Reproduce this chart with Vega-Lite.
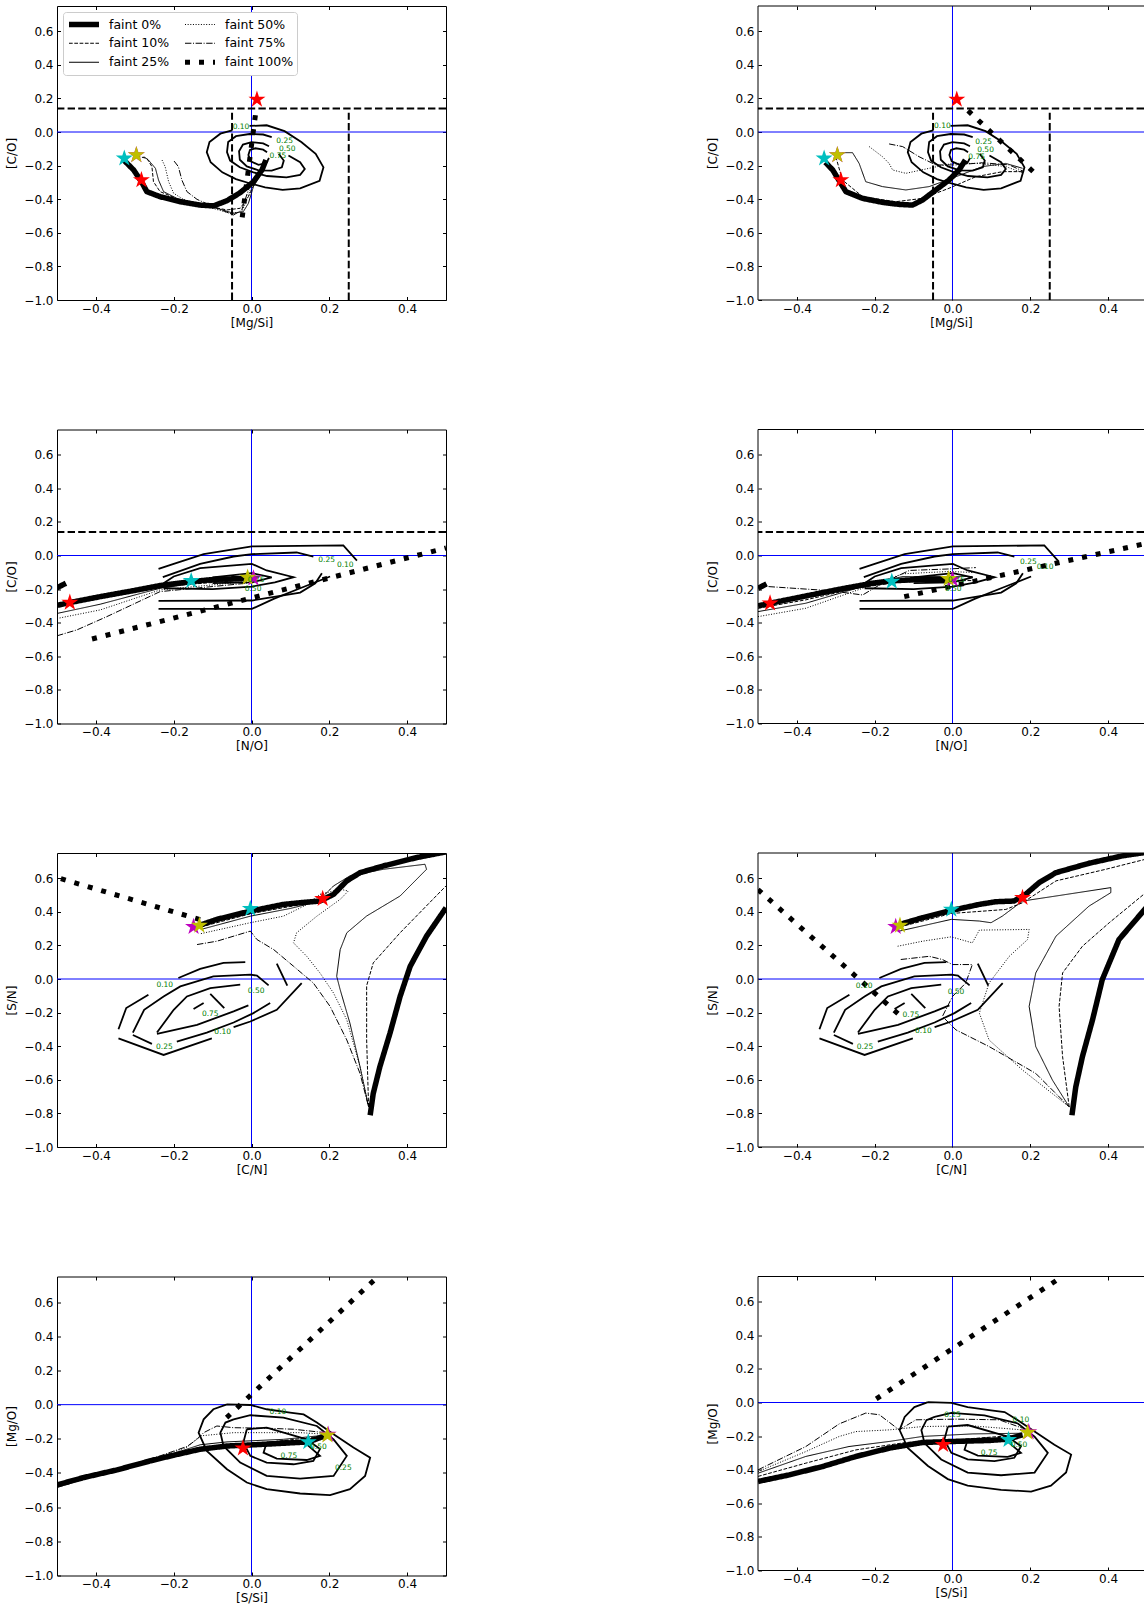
{
"$schema": "https://vega.github.io/schema/vega-lite/v6.json",
"padding": {"left": 5, "top": 5, "right": 0, "bottom": 0},
"background": "white",
"config": {
 "font": "DejaVu Sans",
 "axis": {"labelFont": "DejaVu Sans", "titleFont": "DejaVu Sans", "labelFontSize": 12, "titleFontSize": 12, "titleFontWeight": "normal", "labelColor": "black", "titleColor": "black", "tickColor": "black", "tickSize": 3.5, "tickWidth": 1, "offset": -3.5, "domain": false, "grid": false, "labelFlush": false, "labelOverlap": false, "labelBound": false},
 "view": {"stroke": "black"},
 "text": {"font": "DejaVu Sans"}
},
"datasets": {
"model": [
{"p":1,"s":"faint 0%","g":"0","i":0,"x":-0.327,"y":-0.17},{"p":1,"s":"faint 0%","g":"0","i":1,"x":-0.303,"y":-0.226},{"p":1,"s":"faint 0%","g":"0","i":2,"x":-0.283,"y":-0.296},{"p":1,"s":"faint 0%","g":"0","i":3,"x":-0.269,"y":-0.355},{"p":1,"s":"faint 0%","g":"0","i":4,"x":-0.235,"y":-0.385},{"p":1,"s":"faint 0%","g":"0","i":5,"x":-0.183,"y":-0.415},{"p":1,"s":"faint 0%","g":"0","i":6,"x":-0.132,"y":-0.435},{"p":1,"s":"faint 0%","g":"0","i":7,"x":-0.098,"y":-0.44},{"p":1,"s":"faint 0%","g":"0","i":8,"x":-0.063,"y":-0.409},{"p":1,"s":"faint 0%","g":"0","i":9,"x":-0.029,"y":-0.361},{"p":1,"s":"faint 0%","g":"0","i":10,"x":0.005,"y":-0.296},{"p":1,"s":"faint 0%","g":"0","i":11,"x":0.027,"y":-0.226},{"p":1,"s":"faint 0%","g":"0","i":12,"x":0.037,"y":-0.167},
{"p":1,"s":"faint 10%","g":"10","i":0,"x":-0.295,"y":-0.143},{"p":1,"s":"faint 10%","g":"10","i":1,"x":-0.269,"y":-0.157},{"p":1,"s":"faint 10%","g":"10","i":2,"x":-0.256,"y":-0.206},{"p":1,"s":"faint 10%","g":"10","i":3,"x":-0.252,"y":-0.296},{"p":1,"s":"faint 10%","g":"10","i":4,"x":-0.235,"y":-0.355},{"p":1,"s":"faint 10%","g":"10","i":5,"x":-0.183,"y":-0.405},{"p":1,"s":"faint 10%","g":"10","i":6,"x":-0.115,"y":-0.44},{"p":1,"s":"faint 10%","g":"10","i":7,"x":-0.063,"y":-0.464},{"p":1,"s":"faint 10%","g":"10","i":8,"x":-0.029,"y":-0.454},{"p":1,"s":"faint 10%","g":"10","i":9,"x":-0.008,"y":-0.385},{"p":1,"s":"faint 10%","g":"10","i":10,"x":0.014,"y":-0.276},{"p":1,"s":"faint 10%","g":"10","i":11,"x":0.035,"y":-0.187},
{"p":1,"s":"faint 25%","g":"25","i":0,"x":-0.277,"y":-0.147},{"p":1,"s":"faint 25%","g":"25","i":1,"x":-0.265,"y":-0.167},{"p":1,"s":"faint 25%","g":"25","i":2,"x":-0.247,"y":-0.216},{"p":1,"s":"faint 25%","g":"25","i":3,"x":-0.239,"y":-0.286},{"p":1,"s":"faint 25%","g":"25","i":4,"x":-0.226,"y":-0.355},{"p":1,"s":"faint 25%","g":"25","i":5,"x":-0.192,"y":-0.395},{"p":1,"s":"faint 25%","g":"25","i":6,"x":-0.132,"y":-0.429},{"p":1,"s":"faint 25%","g":"25","i":7,"x":-0.08,"y":-0.46},{"p":1,"s":"faint 25%","g":"25","i":8,"x":-0.046,"y":-0.484},{"p":1,"s":"faint 25%","g":"25","i":9,"x":-0.021,"y":-0.474},{"p":1,"s":"faint 25%","g":"25","i":10,"x":-0.008,"y":-0.425},{"p":1,"s":"faint 25%","g":"25","i":11,"x":0.005,"y":-0.325},{"p":1,"s":"faint 25%","g":"25","i":12,"x":0.031,"y":-0.226},{"p":1,"s":"faint 25%","g":"25","i":13,"x":0.039,"y":-0.177},
{"p":1,"s":"faint 50%","g":"50","i":0,"x":-0.23,"y":-0.167},{"p":1,"s":"faint 50%","g":"50","i":1,"x":-0.222,"y":-0.206},{"p":1,"s":"faint 50%","g":"50","i":2,"x":-0.213,"y":-0.296},{"p":1,"s":"faint 50%","g":"50","i":3,"x":-0.2,"y":-0.365},{"p":1,"s":"faint 50%","g":"50","i":4,"x":-0.175,"y":-0.401},{"p":1,"s":"faint 50%","g":"50","i":5,"x":-0.115,"y":-0.444},{"p":1,"s":"faint 50%","g":"50","i":6,"x":-0.055,"y":-0.484},{"p":1,"s":"faint 50%","g":"50","i":7,"x":-0.025,"y":-0.474},{"p":1,"s":"faint 50%","g":"50","i":8,"x":-0.012,"y":-0.405},{"p":1,"s":"faint 50%","g":"50","i":9,"x":0.005,"y":-0.286},{"p":1,"s":"faint 50%","g":"50","i":10,"x":0.031,"y":-0.206},
{"p":1,"s":"faint 75%","g":"75","i":0,"x":-0.199,"y":-0.173},{"p":1,"s":"faint 75%","g":"75","i":1,"x":-0.188,"y":-0.206},{"p":1,"s":"faint 75%","g":"75","i":2,"x":-0.179,"y":-0.286},{"p":1,"s":"faint 75%","g":"75","i":3,"x":-0.166,"y":-0.355},{"p":1,"s":"faint 75%","g":"75","i":4,"x":-0.14,"y":-0.401},{"p":1,"s":"faint 75%","g":"75","i":5,"x":-0.098,"y":-0.444},{"p":1,"s":"faint 75%","g":"75","i":6,"x":-0.046,"y":-0.494},{"p":1,"s":"faint 75%","g":"75","i":7,"x":-0.025,"y":-0.464},{"p":1,"s":"faint 75%","g":"75","i":8,"x":-0.008,"y":-0.345},{"p":1,"s":"faint 75%","g":"75","i":9,"x":0.014,"y":-0.246},{"p":1,"s":"faint 75%","g":"75","i":10,"x":0.035,"y":-0.196},
{"p":1,"s":"faint 100%","g":"100","i":0,"x":0.01,"y":0.1},{"p":1,"s":"faint 100%","g":"100","i":1,"x":-0.024,"y":-0.51},

{"p":2,"s":"faint 0%","g":"0","i":0,"x":-0.327,"y":-0.18},{"p":2,"s":"faint 0%","g":"0","i":1,"x":-0.308,"y":-0.226},{"p":2,"s":"faint 0%","g":"0","i":2,"x":-0.287,"y":-0.306},{"p":2,"s":"faint 0%","g":"0","i":3,"x":-0.274,"y":-0.355},{"p":2,"s":"faint 0%","g":"0","i":4,"x":-0.231,"y":-0.395},{"p":2,"s":"faint 0%","g":"0","i":5,"x":-0.18,"y":-0.419},{"p":2,"s":"faint 0%","g":"0","i":6,"x":-0.137,"y":-0.431},{"p":2,"s":"faint 0%","g":"0","i":7,"x":-0.103,"y":-0.435},{"p":2,"s":"faint 0%","g":"0","i":8,"x":-0.077,"y":-0.405},{"p":2,"s":"faint 0%","g":"0","i":9,"x":-0.043,"y":-0.345},{"p":2,"s":"faint 0%","g":"0","i":10,"x":-0.009,"y":-0.286},{"p":2,"s":"faint 0%","g":"0","i":11,"x":0.017,"y":-0.226},{"p":2,"s":"faint 0%","g":"0","i":12,"x":0.033,"y":-0.167},
{"p":2,"s":"faint 10%","g":"10","i":0,"x":-0.3,"y":-0.147},{"p":2,"s":"faint 10%","g":"10","i":1,"x":-0.283,"y":-0.286},{"p":2,"s":"faint 10%","g":"10","i":2,"x":-0.231,"y":-0.385},{"p":2,"s":"faint 10%","g":"10","i":3,"x":-0.146,"y":-0.415},{"p":2,"s":"faint 10%","g":"10","i":4,"x":-0.077,"y":-0.395},{"p":2,"s":"faint 10%","g":"10","i":5,"x":-0.009,"y":-0.335},{"p":2,"s":"faint 10%","g":"10","i":6,"x":0.06,"y":-0.266},{"p":2,"s":"faint 10%","g":"10","i":7,"x":0.129,"y":-0.236},{"p":2,"s":"faint 10%","g":"10","i":8,"x":0.18,"y":-0.236},
{"p":2,"s":"faint 25%","g":"25","i":0,"x":-0.283,"y":-0.123},{"p":2,"s":"faint 25%","g":"25","i":1,"x":-0.257,"y":-0.123},{"p":2,"s":"faint 25%","g":"25","i":2,"x":-0.24,"y":-0.187},{"p":2,"s":"faint 25%","g":"25","i":3,"x":-0.223,"y":-0.296},{"p":2,"s":"faint 25%","g":"25","i":4,"x":-0.18,"y":-0.325},{"p":2,"s":"faint 25%","g":"25","i":5,"x":-0.12,"y":-0.345},{"p":2,"s":"faint 25%","g":"25","i":6,"x":-0.06,"y":-0.325},{"p":2,"s":"faint 25%","g":"25","i":7,"x":0.009,"y":-0.266},{"p":2,"s":"faint 25%","g":"25","i":8,"x":0.077,"y":-0.206},{"p":2,"s":"faint 25%","g":"25","i":9,"x":0.137,"y":-0.187},{"p":2,"s":"faint 25%","g":"25","i":10,"x":0.18,"y":-0.216},
{"p":2,"s":"faint 50%","g":"50","i":0,"x":-0.214,"y":-0.087},{"p":2,"s":"faint 50%","g":"50","i":1,"x":-0.18,"y":-0.147},{"p":2,"s":"faint 50%","g":"50","i":2,"x":-0.163,"y":-0.187},{"p":2,"s":"faint 50%","g":"50","i":3,"x":-0.154,"y":-0.226},{"p":2,"s":"faint 50%","g":"50","i":4,"x":-0.12,"y":-0.246},{"p":2,"s":"faint 50%","g":"50","i":5,"x":-0.06,"y":-0.216},{"p":2,"s":"faint 50%","g":"50","i":6,"x":0.0,"y":-0.187},{"p":2,"s":"faint 50%","g":"50","i":7,"x":0.069,"y":-0.187},{"p":2,"s":"faint 50%","g":"50","i":8,"x":0.137,"y":-0.206},{"p":2,"s":"faint 50%","g":"50","i":9,"x":0.18,"y":-0.242},
{"p":2,"s":"faint 75%","g":"75","i":0,"x":-0.163,"y":-0.071},{"p":2,"s":"faint 75%","g":"75","i":1,"x":-0.128,"y":-0.087},{"p":2,"s":"faint 75%","g":"75","i":2,"x":-0.086,"y":-0.147},{"p":2,"s":"faint 75%","g":"75","i":3,"x":-0.043,"y":-0.196},{"p":2,"s":"faint 75%","g":"75","i":4,"x":0.009,"y":-0.196},{"p":2,"s":"faint 75%","g":"75","i":5,"x":0.077,"y":-0.183},{"p":2,"s":"faint 75%","g":"75","i":6,"x":0.146,"y":-0.196},{"p":2,"s":"faint 75%","g":"75","i":7,"x":0.184,"y":-0.236},
{"p":2,"s":"faint 100%","g":"100","i":0,"x":0.04,"y":0.127},{"p":2,"s":"faint 100%","g":"100","i":1,"x":0.21,"y":-0.242},

{"p":3,"s":"faint 0%","g":"0","i":0,"x":-0.5,"y":-0.297},{"p":3,"s":"faint 0%","g":"0","i":1,"x":-0.467,"y":-0.28},{"p":3,"s":"faint 0%","g":"0","i":2,"x":-0.389,"y":-0.245},{"p":3,"s":"faint 0%","g":"0","i":3,"x":-0.303,"y":-0.209},{"p":3,"s":"faint 0%","g":"0","i":4,"x":-0.235,"y":-0.179},{"p":3,"s":"faint 0%","g":"0","i":5,"x":-0.155,"y":-0.155},{"p":3,"s":"faint 0%","g":"0","i":6,"x":-0.089,"y":-0.141},{"p":3,"s":"faint 0%","g":"0","i":7,"x":-0.012,"y":-0.137},
{"p":3,"s":"faint 0%","g":"0b","i":0,"x":-0.5,"y":-0.192},{"p":3,"s":"faint 0%","g":"0b","i":1,"x":-0.477,"y":-0.165},
{"p":3,"s":"faint 10%","g":"10","i":0,"x":-0.5,"y":-0.305},{"p":3,"s":"faint 10%","g":"10","i":1,"x":-0.389,"y":-0.254},{"p":3,"s":"faint 10%","g":"10","i":2,"x":-0.235,"y":-0.185},{"p":3,"s":"faint 10%","g":"10","i":3,"x":-0.012,"y":-0.145},
{"p":3,"s":"faint 25%","g":"25","i":0,"x":-0.5,"y":-0.345},{"p":3,"s":"faint 25%","g":"25","i":1,"x":-0.389,"y":-0.29},{"p":3,"s":"faint 25%","g":"25","i":2,"x":-0.235,"y":-0.195},{"p":3,"s":"faint 25%","g":"25","i":3,"x":-0.132,"y":-0.161},{"p":3,"s":"faint 25%","g":"25","i":4,"x":-0.012,"y":-0.149},
{"p":3,"s":"faint 50%","g":"50","i":0,"x":-0.5,"y":-0.375},{"p":3,"s":"faint 50%","g":"50","i":1,"x":-0.389,"y":-0.324},{"p":3,"s":"faint 50%","g":"50","i":2,"x":-0.235,"y":-0.205},{"p":3,"s":"faint 50%","g":"50","i":3,"x":-0.012,"y":-0.155},
{"p":3,"s":"faint 75%","g":"75","i":0,"x":-0.5,"y":-0.478},{"p":3,"s":"faint 75%","g":"75","i":1,"x":-0.449,"y":-0.443},{"p":3,"s":"faint 75%","g":"75","i":2,"x":-0.372,"y":-0.364},{"p":3,"s":"faint 75%","g":"75","i":3,"x":-0.235,"y":-0.215},{"p":3,"s":"faint 75%","g":"75","i":4,"x":-0.012,"y":-0.165},
{"p":3,"s":"faint 100%","g":"100","i":0,"x":-0.41,"y":-0.497},{"p":3,"s":"faint 100%","g":"100","i":1,"x":0.5,"y":0.045},

{"p":4,"s":"faint 0%","g":"0","i":0,"x":-0.5,"y":-0.3},{"p":4,"s":"faint 0%","g":"0","i":1,"x":-0.469,"y":-0.284},{"p":4,"s":"faint 0%","g":"0","i":2,"x":-0.377,"y":-0.241},{"p":4,"s":"faint 0%","g":"0","i":3,"x":-0.291,"y":-0.201},{"p":4,"s":"faint 0%","g":"0","i":4,"x":-0.206,"y":-0.165},{"p":4,"s":"faint 0%","g":"0","i":5,"x":-0.156,"y":-0.151},{"p":4,"s":"faint 0%","g":"0","i":6,"x":-0.077,"y":-0.141},{"p":4,"s":"faint 0%","g":"0","i":7,"x":-0.009,"y":-0.141},
{"p":4,"s":"faint 0%","g":"0b","i":0,"x":-0.5,"y":-0.195},{"p":4,"s":"faint 0%","g":"0b","i":1,"x":-0.478,"y":-0.169},
{"p":4,"s":"faint 10%","g":"10","i":0,"x":-0.5,"y":-0.314},{"p":4,"s":"faint 10%","g":"10","i":1,"x":-0.377,"y":-0.264},{"p":4,"s":"faint 10%","g":"10","i":2,"x":-0.248,"y":-0.195},{"p":4,"s":"faint 10%","g":"10","i":3,"x":-0.146,"y":-0.161},{"p":4,"s":"faint 10%","g":"10","i":4,"x":-0.034,"y":-0.151},{"p":4,"s":"faint 10%","g":"10","i":5,"x":0.051,"y":-0.149},
{"p":4,"s":"faint 25%","g":"25","i":0,"x":-0.5,"y":-0.334},{"p":4,"s":"faint 25%","g":"25","i":1,"x":-0.377,"y":-0.284},{"p":4,"s":"faint 25%","g":"25","i":2,"x":-0.231,"y":-0.185},{"p":4,"s":"faint 25%","g":"25","i":3,"x":-0.128,"y":-0.125},{"p":4,"s":"faint 25%","g":"25","i":4,"x":-0.009,"y":-0.125},{"p":4,"s":"faint 25%","g":"25","i":5,"x":0.051,"y":-0.125},
{"p":4,"s":"faint 50%","g":"50","i":0,"x":-0.5,"y":-0.364},{"p":4,"s":"faint 50%","g":"50","i":1,"x":-0.377,"y":-0.314},{"p":4,"s":"faint 50%","g":"50","i":2,"x":-0.231,"y":-0.195},{"p":4,"s":"faint 50%","g":"50","i":3,"x":-0.128,"y":-0.109},{"p":4,"s":"faint 50%","g":"50","i":4,"x":-0.009,"y":-0.095},{"p":4,"s":"faint 50%","g":"50","i":5,"x":0.051,"y":-0.101},
{"p":4,"s":"faint 75%","g":"75","i":0,"x":-0.5,"y":-0.181},{"p":4,"s":"faint 75%","g":"75","i":1,"x":-0.317,"y":-0.209},{"p":4,"s":"faint 75%","g":"75","i":2,"x":-0.231,"y":-0.235},{"p":4,"s":"faint 75%","g":"75","i":3,"x":-0.18,"y":-0.165},{"p":4,"s":"faint 75%","g":"75","i":4,"x":-0.111,"y":-0.089},{"p":4,"s":"faint 75%","g":"75","i":5,"x":-0.009,"y":-0.08},{"p":4,"s":"faint 75%","g":"75","i":6,"x":0.06,"y":-0.072},
{"p":4,"s":"faint 100%","g":"100","i":0,"x":-0.124,"y":-0.245},{"p":4,"s":"faint 100%","g":"100","i":1,"x":0.5,"y":0.073},

{"p":5,"s":"faint 0%","g":"0","i":0,"x":-0.134,"y":0.319},{"p":5,"s":"faint 0%","g":"0","i":1,"x":-0.089,"y":0.355},{"p":5,"s":"faint 0%","g":"0","i":2,"x":-0.003,"y":0.404},{"p":5,"s":"faint 0%","g":"0","i":3,"x":0.082,"y":0.444},{"p":5,"s":"faint 0%","g":"0","i":4,"x":0.125,"y":0.454},{"p":5,"s":"faint 0%","g":"0","i":5,"x":0.176,"y":0.464},{"p":5,"s":"faint 0%","g":"0","i":6,"x":0.211,"y":0.504},{"p":5,"s":"faint 0%","g":"0","i":7,"x":0.245,"y":0.584},{"p":5,"s":"faint 0%","g":"0","i":8,"x":0.279,"y":0.633},{"p":5,"s":"faint 0%","g":"0","i":9,"x":0.339,"y":0.673},{"p":5,"s":"faint 0%","g":"0","i":10,"x":0.425,"y":0.723},{"p":5,"s":"faint 0%","g":"0","i":11,"x":0.5,"y":0.757},
{"p":5,"s":"faint 0%","g":"0b","i":0,"x":0.305,"y":-0.811},{"p":5,"s":"faint 0%","g":"0b","i":1,"x":0.313,"y":-0.681},{"p":5,"s":"faint 0%","g":"0b","i":2,"x":0.33,"y":-0.522},{"p":5,"s":"faint 0%","g":"0b","i":3,"x":0.356,"y":-0.323},{"p":5,"s":"faint 0%","g":"0b","i":4,"x":0.382,"y":-0.104},{"p":5,"s":"faint 0%","g":"0b","i":5,"x":0.408,"y":0.076},{"p":5,"s":"faint 0%","g":"0b","i":6,"x":0.45,"y":0.255},{"p":5,"s":"faint 0%","g":"0b","i":7,"x":0.5,"y":0.424},
{"p":5,"s":"faint 10%","g":"10","i":0,"x":-0.13,"y":0.31},{"p":5,"s":"faint 10%","g":"10","i":1,"x":0.0,"y":0.39},{"p":5,"s":"faint 10%","g":"10","i":2,"x":0.12,"y":0.44},{"p":5,"s":"faint 10%","g":"10","i":3,"x":0.18,"y":0.47},{"p":5,"s":"faint 10%","g":"10","i":4,"x":0.22,"y":0.52},{"p":5,"s":"faint 10%","g":"10","i":5,"x":0.26,"y":0.6},{"p":5,"s":"faint 10%","g":"10","i":6,"x":0.32,"y":0.66},{"p":5,"s":"faint 10%","g":"10","i":7,"x":0.42,"y":0.71},{"p":5,"s":"faint 10%","g":"10","i":8,"x":0.5,"y":0.745},
{"p":5,"s":"faint 10%","g":"10b","i":0,"x":0.301,"y":-0.76},{"p":5,"s":"faint 10%","g":"10b","i":1,"x":0.296,"y":-0.36},{"p":5,"s":"faint 10%","g":"10b","i":2,"x":0.296,"y":-0.04},{"p":5,"s":"faint 10%","g":"10b","i":3,"x":0.313,"y":0.096},{"p":5,"s":"faint 10%","g":"10b","i":4,"x":0.382,"y":0.275},{"p":5,"s":"faint 10%","g":"10b","i":5,"x":0.5,"y":0.554},
{"p":5,"s":"faint 25%","g":"25","i":0,"x":-0.13,"y":0.295},{"p":5,"s":"faint 25%","g":"25","i":1,"x":-0.003,"y":0.374},{"p":5,"s":"faint 25%","g":"25","i":2,"x":0.1,"y":0.42},{"p":5,"s":"faint 25%","g":"25","i":3,"x":0.17,"y":0.46},{"p":5,"s":"faint 25%","g":"25","i":4,"x":0.211,"y":0.554},{"p":5,"s":"faint 25%","g":"25","i":5,"x":0.253,"y":0.614},{"p":5,"s":"faint 25%","g":"25","i":6,"x":0.339,"y":0.653},{"p":5,"s":"faint 25%","g":"25","i":7,"x":0.446,"y":0.683},{"p":5,"s":"faint 25%","g":"25","i":8,"x":0.45,"y":0.653},{"p":5,"s":"faint 25%","g":"25","i":9,"x":0.382,"y":0.494},{"p":5,"s":"faint 25%","g":"25","i":10,"x":0.296,"y":0.375},{"p":5,"s":"faint 25%","g":"25","i":11,"x":0.245,"y":0.275},{"p":5,"s":"faint 25%","g":"25","i":12,"x":0.228,"y":0.175},{"p":5,"s":"faint 25%","g":"25","i":13,"x":0.219,"y":0.016},{"p":5,"s":"faint 25%","g":"25","i":14,"x":0.228,"y":-0.064},{"p":5,"s":"faint 25%","g":"25","i":15,"x":0.253,"y":-0.263},{"p":5,"s":"faint 25%","g":"25","i":16,"x":0.279,"y":-0.522},{"p":5,"s":"faint 25%","g":"25","i":17,"x":0.301,"y":-0.761},
{"p":5,"s":"faint 50%","g":"50","i":0,"x":-0.13,"y":0.27},{"p":5,"s":"faint 50%","g":"50","i":1,"x":-0.003,"y":0.335},{"p":5,"s":"faint 50%","g":"50","i":2,"x":0.082,"y":0.374},{"p":5,"s":"faint 50%","g":"50","i":3,"x":0.14,"y":0.44},{"p":5,"s":"faint 50%","g":"50","i":4,"x":0.176,"y":0.504},{"p":5,"s":"faint 50%","g":"50","i":5,"x":0.228,"y":0.534},{"p":5,"s":"faint 50%","g":"50","i":6,"x":0.249,"y":0.524},{"p":5,"s":"faint 50%","g":"50","i":7,"x":0.228,"y":0.474},{"p":5,"s":"faint 50%","g":"50","i":8,"x":0.168,"y":0.374},{"p":5,"s":"faint 50%","g":"50","i":9,"x":0.116,"y":0.275},{"p":5,"s":"faint 50%","g":"50","i":10,"x":0.108,"y":0.215},{"p":5,"s":"faint 50%","g":"50","i":11,"x":0.142,"y":0.135},{"p":5,"s":"faint 50%","g":"50","i":12,"x":0.176,"y":0.036},{"p":5,"s":"faint 50%","g":"50","i":13,"x":0.211,"y":-0.084},{"p":5,"s":"faint 50%","g":"50","i":14,"x":0.245,"y":-0.243},{"p":5,"s":"faint 50%","g":"50","i":15,"x":0.279,"y":-0.522},{"p":5,"s":"faint 50%","g":"50","i":16,"x":0.301,"y":-0.761},
{"p":5,"s":"faint 75%","g":"75","i":0,"x":-0.14,"y":0.205},{"p":5,"s":"faint 75%","g":"75","i":1,"x":-0.089,"y":0.225},{"p":5,"s":"faint 75%","g":"75","i":2,"x":-0.003,"y":0.285},{"p":5,"s":"faint 75%","g":"75","i":3,"x":0.014,"y":0.235},{"p":5,"s":"faint 75%","g":"75","i":4,"x":0.057,"y":0.175},{"p":5,"s":"faint 75%","g":"75","i":5,"x":0.108,"y":0.076},{"p":5,"s":"faint 75%","g":"75","i":6,"x":0.159,"y":-0.024},{"p":5,"s":"faint 75%","g":"75","i":7,"x":0.202,"y":-0.163},{"p":5,"s":"faint 75%","g":"75","i":8,"x":0.245,"y":-0.363},{"p":5,"s":"faint 75%","g":"75","i":9,"x":0.279,"y":-0.562},{"p":5,"s":"faint 75%","g":"75","i":10,"x":0.301,"y":-0.761},
{"p":5,"s":"faint 100%","g":"100","i":0,"x":-0.49,"y":0.597},{"p":5,"s":"faint 100%","g":"100","i":1,"x":-0.12,"y":0.345},

{"p":6,"s":"faint 0%","g":"0","i":0,"x":-0.135,"y":0.325},{"p":6,"s":"faint 0%","g":"0","i":1,"x":-0.077,"y":0.365},{"p":6,"s":"faint 0%","g":"0","i":2,"x":-0.003,"y":0.408},{"p":6,"s":"faint 0%","g":"0","i":3,"x":0.069,"y":0.444},{"p":6,"s":"faint 0%","g":"0","i":4,"x":0.111,"y":0.46},{"p":6,"s":"faint 0%","g":"0","i":5,"x":0.158,"y":0.464},{"p":6,"s":"faint 0%","g":"0","i":6,"x":0.188,"y":0.504},{"p":6,"s":"faint 0%","g":"0","i":7,"x":0.223,"y":0.574},{"p":6,"s":"faint 0%","g":"0","i":8,"x":0.266,"y":0.633},{"p":6,"s":"faint 0%","g":"0","i":9,"x":0.351,"y":0.689},{"p":6,"s":"faint 0%","g":"0","i":10,"x":0.437,"y":0.733},{"p":6,"s":"faint 0%","g":"0","i":11,"x":0.5,"y":0.755},
{"p":6,"s":"faint 0%","g":"0b","i":0,"x":0.307,"y":-0.811},{"p":6,"s":"faint 0%","g":"0b","i":1,"x":0.317,"y":-0.641},{"p":6,"s":"faint 0%","g":"0b","i":2,"x":0.334,"y":-0.462},{"p":6,"s":"faint 0%","g":"0b","i":3,"x":0.36,"y":-0.243},{"p":6,"s":"faint 0%","g":"0b","i":4,"x":0.385,"y":-0.004},{"p":6,"s":"faint 0%","g":"0b","i":5,"x":0.428,"y":0.235},{"p":6,"s":"faint 0%","g":"0b","i":6,"x":0.5,"y":0.43},
{"p":6,"s":"faint 10%","g":"10","i":0,"x":-0.135,"y":0.31},{"p":6,"s":"faint 10%","g":"10","i":1,"x":-0.003,"y":0.39},{"p":6,"s":"faint 10%","g":"10","i":2,"x":0.137,"y":0.414},{"p":6,"s":"faint 10%","g":"10","i":3,"x":0.18,"y":0.454},{"p":6,"s":"faint 10%","g":"10","i":4,"x":0.266,"y":0.584},{"p":6,"s":"faint 10%","g":"10","i":5,"x":0.394,"y":0.653},{"p":6,"s":"faint 10%","g":"10","i":6,"x":0.5,"y":0.715},
{"p":6,"s":"faint 10%","g":"10b","i":0,"x":0.3,"y":-0.761},{"p":6,"s":"faint 10%","g":"10b","i":1,"x":0.283,"y":-0.462},{"p":6,"s":"faint 10%","g":"10b","i":2,"x":0.274,"y":-0.163},{"p":6,"s":"faint 10%","g":"10b","i":3,"x":0.283,"y":0.036},{"p":6,"s":"faint 10%","g":"10b","i":4,"x":0.334,"y":0.195},{"p":6,"s":"faint 10%","g":"10b","i":5,"x":0.403,"y":0.335},{"p":6,"s":"faint 10%","g":"10b","i":6,"x":0.5,"y":0.52},
{"p":6,"s":"faint 25%","g":"25","i":0,"x":-0.137,"y":0.285},{"p":6,"s":"faint 25%","g":"25","i":1,"x":-0.003,"y":0.355},{"p":6,"s":"faint 25%","g":"25","i":2,"x":0.069,"y":0.345},{"p":6,"s":"faint 25%","g":"25","i":3,"x":0.099,"y":0.335},{"p":6,"s":"faint 25%","g":"25","i":4,"x":0.128,"y":0.374},{"p":6,"s":"faint 25%","g":"25","i":5,"x":0.18,"y":0.464},{"p":6,"s":"faint 25%","g":"25","i":6,"x":0.266,"y":0.494},{"p":6,"s":"faint 25%","g":"25","i":7,"x":0.407,"y":0.544},{"p":6,"s":"faint 25%","g":"25","i":8,"x":0.407,"y":0.514},{"p":6,"s":"faint 25%","g":"25","i":9,"x":0.351,"y":0.434},{"p":6,"s":"faint 25%","g":"25","i":10,"x":0.266,"y":0.255},{"p":6,"s":"faint 25%","g":"25","i":11,"x":0.214,"y":0.036},{"p":6,"s":"faint 25%","g":"25","i":12,"x":0.197,"y":-0.163},{"p":6,"s":"faint 25%","g":"25","i":13,"x":0.214,"y":-0.402},{"p":6,"s":"faint 25%","g":"25","i":14,"x":0.257,"y":-0.602},{"p":6,"s":"faint 25%","g":"25","i":15,"x":0.3,"y":-0.761},
{"p":6,"s":"faint 50%","g":"50","i":0,"x":-0.141,"y":0.195},{"p":6,"s":"faint 50%","g":"50","i":1,"x":-0.077,"y":0.225},{"p":6,"s":"faint 50%","g":"50","i":2,"x":-0.003,"y":0.251},{"p":6,"s":"faint 50%","g":"50","i":3,"x":0.051,"y":0.215},{"p":6,"s":"faint 50%","g":"50","i":4,"x":0.069,"y":0.291},{"p":6,"s":"faint 50%","g":"50","i":5,"x":0.197,"y":0.295},{"p":6,"s":"faint 50%","g":"50","i":6,"x":0.193,"y":0.235},{"p":6,"s":"faint 50%","g":"50","i":7,"x":0.146,"y":0.135},{"p":6,"s":"faint 50%","g":"50","i":8,"x":0.094,"y":-0.024},{"p":6,"s":"faint 50%","g":"50","i":9,"x":0.069,"y":-0.203},{"p":6,"s":"faint 50%","g":"50","i":10,"x":0.094,"y":-0.363},{"p":6,"s":"faint 50%","g":"50","i":11,"x":0.18,"y":-0.542},{"p":6,"s":"faint 50%","g":"50","i":12,"x":0.3,"y":-0.761},
{"p":6,"s":"faint 75%","g":"75","i":0,"x":-0.133,"y":0.116},{"p":6,"s":"faint 75%","g":"75","i":1,"x":-0.06,"y":0.135},{"p":6,"s":"faint 75%","g":"75","i":2,"x":-0.026,"y":0.116},{"p":6,"s":"faint 75%","g":"75","i":3,"x":0.0,"y":0.086},{"p":6,"s":"faint 75%","g":"75","i":4,"x":0.051,"y":0.086},{"p":6,"s":"faint 75%","g":"75","i":5,"x":0.034,"y":-0.024},{"p":6,"s":"faint 75%","g":"75","i":6,"x":0.0,"y":-0.104},{"p":6,"s":"faint 75%","g":"75","i":7,"x":-0.026,"y":-0.223},{"p":6,"s":"faint 75%","g":"75","i":8,"x":0.009,"y":-0.303},{"p":6,"s":"faint 75%","g":"75","i":9,"x":0.094,"y":-0.402},{"p":6,"s":"faint 75%","g":"75","i":10,"x":0.214,"y":-0.562},{"p":6,"s":"faint 75%","g":"75","i":11,"x":0.3,"y":-0.761},
{"p":6,"s":"faint 100%","g":"100","i":0,"x":-0.5,"y":0.532},{"p":6,"s":"faint 100%","g":"100","i":1,"x":-0.135,"y":-0.217},

{"p":7,"s":"faint 0%","g":"0","i":0,"x":-0.5,"y":-0.47},{"p":7,"s":"faint 0%","g":"0","i":1,"x":-0.432,"y":-0.427},{"p":7,"s":"faint 0%","g":"0","i":2,"x":-0.346,"y":-0.382},{"p":7,"s":"faint 0%","g":"0","i":3,"x":-0.26,"y":-0.329},{"p":7,"s":"faint 0%","g":"0","i":4,"x":-0.2,"y":-0.296},{"p":7,"s":"faint 0%","g":"0","i":5,"x":-0.132,"y":-0.261},{"p":7,"s":"faint 0%","g":"0","i":6,"x":-0.063,"y":-0.242},{"p":7,"s":"faint 0%","g":"0","i":7,"x":-0.003,"y":-0.236},{"p":7,"s":"faint 0%","g":"0","i":8,"x":0.082,"y":-0.226},{"p":7,"s":"faint 0%","g":"0","i":9,"x":0.146,"y":-0.218},{"p":7,"s":"faint 0%","g":"0","i":10,"x":0.189,"y":-0.183},
{"p":7,"s":"faint 10%","g":"10","i":0,"x":-0.5,"y":-0.476},{"p":7,"s":"faint 10%","g":"10","i":1,"x":-0.346,"y":-0.385},{"p":7,"s":"faint 10%","g":"10","i":2,"x":-0.235,"y":-0.318},{"p":7,"s":"faint 10%","g":"10","i":3,"x":-0.132,"y":-0.252},{"p":7,"s":"faint 10%","g":"10","i":4,"x":-0.003,"y":-0.232},{"p":7,"s":"faint 10%","g":"10","i":5,"x":0.189,"y":-0.183},
{"p":7,"s":"faint 25%","g":"25","i":0,"x":-0.5,"y":-0.478},{"p":7,"s":"faint 25%","g":"25","i":1,"x":-0.346,"y":-0.38},{"p":7,"s":"faint 25%","g":"25","i":2,"x":-0.235,"y":-0.312},{"p":7,"s":"faint 25%","g":"25","i":3,"x":-0.132,"y":-0.235},{"p":7,"s":"faint 25%","g":"25","i":4,"x":-0.063,"y":-0.218},{"p":7,"s":"faint 25%","g":"25","i":5,"x":0.082,"y":-0.203},{"p":7,"s":"faint 25%","g":"25","i":6,"x":0.189,"y":-0.179},
{"p":7,"s":"faint 50%","g":"50","i":0,"x":-0.5,"y":-0.482},{"p":7,"s":"faint 50%","g":"50","i":1,"x":-0.346,"y":-0.378},{"p":7,"s":"faint 50%","g":"50","i":2,"x":-0.235,"y":-0.305},{"p":7,"s":"faint 50%","g":"50","i":3,"x":-0.166,"y":-0.25},{"p":7,"s":"faint 50%","g":"50","i":4,"x":-0.132,"y":-0.183},{"p":7,"s":"faint 50%","g":"50","i":5,"x":-0.046,"y":-0.164},{"p":7,"s":"faint 50%","g":"50","i":6,"x":0.039,"y":-0.164},{"p":7,"s":"faint 50%","g":"50","i":7,"x":0.125,"y":-0.164},{"p":7,"s":"faint 50%","g":"50","i":8,"x":0.189,"y":-0.173},
{"p":7,"s":"faint 75%","g":"75","i":0,"x":-0.5,"y":-0.485},{"p":7,"s":"faint 75%","g":"75","i":1,"x":-0.346,"y":-0.376},{"p":7,"s":"faint 75%","g":"75","i":2,"x":-0.235,"y":-0.3},{"p":7,"s":"faint 75%","g":"75","i":3,"x":-0.166,"y":-0.245},{"p":7,"s":"faint 75%","g":"75","i":4,"x":-0.14,"y":-0.203},{"p":7,"s":"faint 75%","g":"75","i":5,"x":-0.123,"y":-0.164},{"p":7,"s":"faint 75%","g":"75","i":6,"x":-0.089,"y":-0.125},{"p":7,"s":"faint 75%","g":"75","i":7,"x":-0.046,"y":-0.135},{"p":7,"s":"faint 75%","g":"75","i":8,"x":0.039,"y":-0.138},{"p":7,"s":"faint 75%","g":"75","i":9,"x":0.108,"y":-0.144},{"p":7,"s":"faint 75%","g":"75","i":10,"x":0.189,"y":-0.164},
{"p":7,"s":"faint 100%","g":"100","i":0,"x":-0.064,"y":-0.076},{"p":7,"s":"faint 100%","g":"100","i":1,"x":0.318,"y":0.735},

{"p":8,"s":"faint 0%","g":"0","i":0,"x":-0.5,"y":-0.47},{"p":8,"s":"faint 0%","g":"0","i":1,"x":-0.42,"y":-0.431},{"p":8,"s":"faint 0%","g":"0","i":2,"x":-0.334,"y":-0.381},{"p":8,"s":"faint 0%","g":"0","i":3,"x":-0.248,"y":-0.321},{"p":8,"s":"faint 0%","g":"0","i":4,"x":-0.163,"y":-0.272},{"p":8,"s":"faint 0%","g":"0","i":5,"x":-0.077,"y":-0.238},{"p":8,"s":"faint 0%","g":"0","i":6,"x":0.0,"y":-0.232},{"p":8,"s":"faint 0%","g":"0","i":7,"x":0.094,"y":-0.226},{"p":8,"s":"faint 0%","g":"0","i":8,"x":0.144,"y":-0.218},{"p":8,"s":"faint 0%","g":"0","i":9,"x":0.18,"y":-0.192},
{"p":8,"s":"faint 10%","g":"10","i":0,"x":-0.5,"y":-0.44},{"p":8,"s":"faint 10%","g":"10","i":1,"x":-0.377,"y":-0.361},{"p":8,"s":"faint 10%","g":"10","i":2,"x":-0.248,"y":-0.282},{"p":8,"s":"faint 10%","g":"10","i":3,"x":-0.12,"y":-0.238},{"p":8,"s":"faint 10%","g":"10","i":4,"x":0.009,"y":-0.222},{"p":8,"s":"faint 10%","g":"10","i":5,"x":0.18,"y":-0.192},
{"p":8,"s":"faint 25%","g":"25","i":0,"x":-0.5,"y":-0.421},{"p":8,"s":"faint 25%","g":"25","i":1,"x":-0.377,"y":-0.321},{"p":8,"s":"faint 25%","g":"25","i":2,"x":-0.266,"y":-0.262},{"p":8,"s":"faint 25%","g":"25","i":3,"x":-0.163,"y":-0.232},{"p":8,"s":"faint 25%","g":"25","i":4,"x":-0.077,"y":-0.202},{"p":8,"s":"faint 25%","g":"25","i":5,"x":0.051,"y":-0.187},{"p":8,"s":"faint 25%","g":"25","i":6,"x":0.18,"y":-0.183},
{"p":8,"s":"faint 50%","g":"50","i":0,"x":-0.5,"y":-0.411},{"p":8,"s":"faint 50%","g":"50","i":1,"x":-0.377,"y":-0.292},{"p":8,"s":"faint 50%","g":"50","i":2,"x":-0.291,"y":-0.202},{"p":8,"s":"faint 50%","g":"50","i":3,"x":-0.248,"y":-0.173},{"p":8,"s":"faint 50%","g":"50","i":4,"x":-0.163,"y":-0.163},{"p":8,"s":"faint 50%","g":"50","i":5,"x":-0.077,"y":-0.143},{"p":8,"s":"faint 50%","g":"50","i":6,"x":0.051,"y":-0.139},{"p":8,"s":"faint 50%","g":"50","i":7,"x":0.18,"y":-0.163},
{"p":8,"s":"faint 75%","g":"75","i":0,"x":-0.5,"y":-0.401},{"p":8,"s":"faint 75%","g":"75","i":1,"x":-0.377,"y":-0.262},{"p":8,"s":"faint 75%","g":"75","i":2,"x":-0.291,"y":-0.127},{"p":8,"s":"faint 75%","g":"75","i":3,"x":-0.223,"y":-0.063},{"p":8,"s":"faint 75%","g":"75","i":4,"x":-0.188,"y":-0.073},{"p":8,"s":"faint 75%","g":"75","i":5,"x":-0.137,"y":-0.163},{"p":8,"s":"faint 75%","g":"75","i":6,"x":-0.094,"y":-0.103},{"p":8,"s":"faint 75%","g":"75","i":7,"x":0.009,"y":-0.099},{"p":8,"s":"faint 75%","g":"75","i":8,"x":0.12,"y":-0.103},{"p":8,"s":"faint 75%","g":"75","i":9,"x":0.18,"y":-0.153},
{"p":8,"s":"faint 100%","g":"100","i":0,"x":-0.196,"y":0.022},{"p":8,"s":"faint 100%","g":"100","i":1,"x":0.268,"y":0.728}
],
"cont": [
{"q":1,"g":"a","i":0,"x":-0.005,"y":0.036},{"q":1,"g":"a","i":1,"x":0.039,"y":0.04},{"q":1,"g":"a","i":2,"x":0.085,"y":0.005},{"q":1,"g":"a","i":3,"x":0.128,"y":-0.06},{"q":1,"g":"a","i":4,"x":0.165,"y":-0.13},{"q":1,"g":"a","i":5,"x":0.185,"y":-0.21},{"q":1,"g":"a","i":6,"x":0.175,"y":-0.29},{"q":1,"g":"a","i":7,"x":0.125,"y":-0.335},{"q":1,"g":"a","i":8,"x":0.08,"y":-0.345},{"q":1,"g":"a","i":9,"x":0.035,"y":-0.33},{"q":1,"g":"a","i":10,"x":-0.005,"y":-0.305},{"q":1,"g":"a","i":11,"x":-0.04,"y":-0.28},{"q":1,"g":"a","i":12,"x":-0.075,"y":-0.24},{"q":1,"g":"a","i":13,"x":-0.105,"y":-0.18},{"q":1,"g":"a","i":14,"x":-0.115,"y":-0.12},{"q":1,"g":"a","i":15,"x":-0.108,"y":-0.06},{"q":1,"g":"a","i":16,"x":-0.08,"y":-0.01},{"q":1,"g":"a","i":17,"x":-0.05,"y":0.01},
{"q":1,"g":"b","i":0,"x":0.052,"y":-0.03},{"q":1,"g":"b","i":1,"x":0.03,"y":-0.015},{"q":1,"g":"b","i":2,"x":-0.005,"y":-0.012},{"q":1,"g":"b","i":3,"x":-0.04,"y":-0.025},{"q":1,"g":"b","i":4,"x":-0.06,"y":-0.06},{"q":1,"g":"b","i":5,"x":-0.063,"y":-0.12},{"q":1,"g":"b","i":6,"x":-0.055,"y":-0.17},{"q":1,"g":"b","i":7,"x":-0.03,"y":-0.21},{"q":1,"g":"b","i":8,"x":0.005,"y":-0.24},{"q":1,"g":"b","i":9,"x":0.04,"y":-0.262},{"q":1,"g":"b","i":10,"x":0.09,"y":-0.27},{"q":1,"g":"b","i":11,"x":0.125,"y":-0.255},{"q":1,"g":"b","i":12,"x":0.137,"y":-0.22},{"q":1,"g":"b","i":13,"x":0.125,"y":-0.18},{"q":1,"g":"b","i":14,"x":0.095,"y":-0.14},
{"q":1,"g":"c","i":0,"x":0.045,"y":-0.085},{"q":1,"g":"c","i":1,"x":0.03,"y":-0.068},{"q":1,"g":"c","i":2,"x":0.0,"y":-0.06},{"q":1,"g":"c","i":3,"x":-0.022,"y":-0.075},{"q":1,"g":"c","i":4,"x":-0.032,"y":-0.115},{"q":1,"g":"c","i":5,"x":-0.03,"y":-0.165},{"q":1,"g":"c","i":6,"x":-0.012,"y":-0.205},{"q":1,"g":"c","i":7,"x":0.018,"y":-0.228},{"q":1,"g":"c","i":8,"x":0.052,"y":-0.23},{"q":1,"g":"c","i":9,"x":0.078,"y":-0.21},{"q":1,"g":"c","i":10,"x":0.083,"y":-0.17},{"q":1,"g":"c","i":11,"x":0.07,"y":-0.13},
{"q":1,"g":"d","i":0,"x":0.04,"y":-0.12},{"q":1,"g":"d","i":1,"x":0.03,"y":-0.105},{"q":1,"g":"d","i":2,"x":0.01,"y":-0.097},{"q":1,"g":"d","i":3,"x":-0.004,"y":-0.107},{"q":1,"g":"d","i":4,"x":-0.008,"y":-0.137},{"q":1,"g":"d","i":5,"x":-0.002,"y":-0.175},{"q":1,"g":"d","i":6,"x":0.018,"y":-0.195},{"q":1,"g":"d","i":7,"x":0.038,"y":-0.185},{"q":1,"g":"d","i":8,"x":0.045,"y":-0.155},

{"q":2,"g":"a","i":0,"x":-0.239,"y":-0.08},{"q":2,"g":"a","i":1,"x":-0.2,"y":-0.05},{"q":2,"g":"a","i":2,"x":-0.123,"y":0.008},{"q":2,"g":"a","i":3,"x":0.001,"y":0.054},{"q":2,"g":"a","i":4,"x":0.236,"y":0.06},{"q":2,"g":"a","i":5,"x":0.271,"y":-0.03},
{"q":2,"g":"b","i":0,"x":-0.239,"y":-0.318},{"q":2,"g":"b","i":1,"x":0.001,"y":-0.318},{"q":2,"g":"b","i":2,"x":0.057,"y":-0.258},{"q":2,"g":"b","i":3,"x":0.125,"y":-0.195},{"q":2,"g":"b","i":4,"x":0.202,"y":-0.125},
{"q":2,"g":"c","i":0,"x":-0.228,"y":-0.129},{"q":2,"g":"c","i":1,"x":-0.132,"y":-0.05},{"q":2,"g":"c","i":2,"x":-0.046,"y":-0.006},{"q":2,"g":"c","i":3,"x":0.001,"y":0.008},{"q":2,"g":"c","i":4,"x":0.116,"y":0.018},{"q":2,"g":"c","i":5,"x":0.159,"y":-0.006},
{"q":2,"g":"d","i":0,"x":-0.239,"y":-0.27},{"q":2,"g":"d","i":1,"x":0.001,"y":-0.268},{"q":2,"g":"d","i":2,"x":0.125,"y":-0.221},{"q":2,"g":"d","i":3,"x":0.164,"y":-0.165},{"q":2,"g":"d","i":4,"x":0.181,"y":-0.105},
{"q":2,"g":"e","i":0,"x":-0.226,"y":-0.165},{"q":2,"g":"e","i":1,"x":-0.2,"y":-0.125},{"q":2,"g":"e","i":2,"x":-0.132,"y":-0.075},{"q":2,"g":"e","i":3,"x":0.001,"y":-0.05},{"q":2,"g":"e","i":4,"x":0.039,"y":-0.089},{"q":2,"g":"e","i":5,"x":0.108,"y":-0.129},{"q":2,"g":"e","i":6,"x":0.06,"y":-0.16},{"q":2,"g":"e","i":7,"x":0.001,"y":-0.185},{"q":2,"g":"e","i":8,"x":-0.1,"y":-0.2},{"q":2,"g":"e","i":9,"x":-0.226,"y":-0.195},
{"q":2,"g":"f","i":0,"x":-0.1,"y":-0.13},{"q":2,"g":"f","i":1,"x":0.001,"y":-0.105},{"q":2,"g":"f","i":2,"x":0.052,"y":-0.13},{"q":2,"g":"f","i":3,"x":0.001,"y":-0.16},{"q":2,"g":"f","i":4,"x":-0.1,"y":-0.165},

{"q":3,"g":"a","i":0,"x":-0.342,"y":-0.299},{"q":3,"g":"a","i":1,"x":-0.322,"y":-0.173},{"q":3,"g":"a","i":2,"x":-0.265,"y":-0.094},
{"q":3,"g":"b","i":0,"x":-0.188,"y":0.006},{"q":3,"g":"b","i":1,"x":-0.132,"y":0.06},{"q":3,"g":"b","i":2,"x":-0.072,"y":0.096},{"q":3,"g":"b","i":3,"x":-0.016,"y":0.1},
{"q":3,"g":"c","i":0,"x":0.065,"y":0.092},{"q":3,"g":"c","i":1,"x":0.092,"y":-0.04},
{"q":3,"g":"d","i":0,"x":0.129,"y":-0.024},{"q":3,"g":"d","i":1,"x":0.065,"y":-0.183},{"q":3,"g":"d","i":2,"x":-0.003,"y":-0.253},{"q":3,"g":"d","i":3,"x":-0.046,"y":-0.287},
{"q":3,"g":"e","i":0,"x":-0.102,"y":-0.353},{"q":3,"g":"e","i":1,"x":-0.226,"y":-0.452},{"q":3,"g":"e","i":2,"x":-0.342,"y":-0.353},
{"q":3,"g":"f","i":0,"x":-0.305,"y":-0.319},{"q":3,"g":"f","i":1,"x":-0.276,"y":-0.183},{"q":3,"g":"f","i":2,"x":-0.226,"y":-0.104},{"q":3,"g":"f","i":3,"x":-0.183,"y":-0.044},{"q":3,"g":"f","i":4,"x":-0.098,"y":0.016},{"q":3,"g":"f","i":5,"x":-0.003,"y":0.026},{"q":3,"g":"f","i":6,"x":0.014,"y":0.02},{"q":3,"g":"f","i":7,"x":0.044,"y":-0.038},
{"q":3,"g":"g","i":0,"x":-0.192,"y":-0.373},{"q":3,"g":"g","i":1,"x":-0.115,"y":-0.319},{"q":3,"g":"g","i":2,"x":-0.046,"y":-0.259},{"q":3,"g":"g","i":3,"x":0.005,"y":-0.203},{"q":3,"g":"g","i":4,"x":0.048,"y":-0.143},
{"q":3,"g":"h","i":0,"x":-0.305,"y":-0.333},{"q":3,"g":"h","i":1,"x":-0.256,"y":-0.386},
{"q":3,"g":"i","i":0,"x":-0.243,"y":-0.319},{"q":3,"g":"i","i":1,"x":-0.2,"y":-0.183},{"q":3,"g":"i","i":2,"x":-0.166,"y":-0.104},{"q":3,"g":"i","i":3,"x":-0.106,"y":-0.054},{"q":3,"g":"i","i":4,"x":-0.029,"y":-0.034},
{"q":3,"g":"j","i":0,"x":-0.243,"y":-0.327},{"q":3,"g":"j","i":1,"x":-0.14,"y":-0.273},{"q":3,"g":"j","i":2,"x":-0.046,"y":-0.193},{"q":3,"g":"j","i":3,"x":-0.008,"y":-0.157},
{"q":3,"g":"k","i":0,"x":-0.149,"y":-0.179},{"q":3,"g":"k","i":1,"x":-0.123,"y":-0.143},
{"q":3,"g":"l","i":0,"x":-0.106,"y":-0.088},{"q":3,"g":"l","i":1,"x":-0.07,"y":-0.173},

{"q":4,"g":"a","i":0,"x":-0.063,"y":0.002},{"q":4,"g":"a","i":1,"x":-0.003,"y":-0.002},{"q":4,"g":"a","i":2,"x":0.039,"y":-0.027},{"q":4,"g":"a","i":3,"x":0.099,"y":-0.047},{"q":4,"g":"a","i":4,"x":0.134,"y":-0.057},{"q":4,"g":"a","i":5,"x":0.168,"y":-0.105},{"q":4,"g":"a","i":6,"x":0.211,"y":-0.173},{"q":4,"g":"a","i":7,"x":0.262,"y":-0.251},{"q":4,"g":"a","i":8,"x":0.305,"y":-0.31},{"q":4,"g":"a","i":9,"x":0.292,"y":-0.417},{"q":4,"g":"a","i":10,"x":0.253,"y":-0.495},{"q":4,"g":"a","i":11,"x":0.202,"y":-0.53},{"q":4,"g":"a","i":12,"x":0.125,"y":-0.52},{"q":4,"g":"a","i":13,"x":0.039,"y":-0.495},{"q":4,"g":"a","i":14,"x":-0.012,"y":-0.456},{"q":4,"g":"a","i":15,"x":-0.063,"y":-0.378},{"q":4,"g":"a","i":16,"x":-0.115,"y":-0.271},{"q":4,"g":"a","i":17,"x":-0.136,"y":-0.164},{"q":4,"g":"a","i":18,"x":-0.123,"y":-0.086},{"q":4,"g":"a","i":19,"x":-0.098,"y":-0.027},{"q":4,"g":"a","i":20,"x":-0.063,"y":0.002},
{"q":4,"g":"b","i":0,"x":-0.046,"y":-0.086},{"q":4,"g":"b","i":1,"x":-0.003,"y":-0.062},{"q":4,"g":"b","i":2,"x":0.082,"y":-0.076},{"q":4,"g":"b","i":3,"x":0.168,"y":-0.125},{"q":4,"g":"b","i":4,"x":0.211,"y":-0.203},{"q":4,"g":"b","i":5,"x":0.245,"y":-0.3},{"q":4,"g":"b","i":6,"x":0.211,"y":-0.417},{"q":4,"g":"b","i":7,"x":0.125,"y":-0.433},{"q":4,"g":"b","i":8,"x":0.039,"y":-0.417},{"q":4,"g":"b","i":9,"x":-0.029,"y":-0.339},{"q":4,"g":"b","i":10,"x":-0.072,"y":-0.242},{"q":4,"g":"b","i":11,"x":-0.08,"y":-0.164},{"q":4,"g":"b","i":12,"x":-0.067,"y":-0.105},{"q":4,"g":"b","i":13,"x":-0.046,"y":-0.086},
{"q":4,"g":"c","i":0,"x":-0.012,"y":-0.144},{"q":4,"g":"c","i":1,"x":0.039,"y":-0.134},{"q":4,"g":"c","i":2,"x":0.142,"y":-0.203},{"q":4,"g":"c","i":3,"x":0.176,"y":-0.26},{"q":4,"g":"c","i":4,"x":0.159,"y":-0.329},{"q":4,"g":"c","i":5,"x":0.108,"y":-0.349},{"q":4,"g":"c","i":6,"x":0.039,"y":-0.339},{"q":4,"g":"c","i":7,"x":-0.003,"y":-0.3},{"q":4,"g":"c","i":8,"x":-0.021,"y":-0.222},{"q":4,"g":"c","i":9,"x":-0.012,"y":-0.144},
{"q":4,"g":"d","i":0,"x":0.039,"y":-0.222},{"q":4,"g":"d","i":1,"x":0.09,"y":-0.212},{"q":4,"g":"d","i":2,"x":0.142,"y":-0.232},{"q":4,"g":"d","i":3,"x":0.176,"y":-0.3},{"q":4,"g":"d","i":4,"x":0.142,"y":-0.324},{"q":4,"g":"d","i":5,"x":0.065,"y":-0.316},{"q":4,"g":"d","i":6,"x":0.031,"y":-0.281},{"q":4,"g":"d","i":7,"x":0.039,"y":-0.222}
],
"clab": [
{"p":1,"t":"0.10","x":-0.027,"y":0.03},{"p":1,"t":"0.25","x":0.085,"y":-0.055},{"p":1,"t":"0.50","x":0.092,"y":-0.1},{"p":1,"t":"0.75","x":0.068,"y":-0.145},
{"p":2,"t":"0.10","x":-0.026,"y":0.036},{"p":2,"t":"0.25","x":0.08,"y":-0.06},{"p":2,"t":"0.50","x":0.085,"y":-0.105},{"p":2,"t":"0.75","x":0.062,"y":-0.15},
{"p":3,"t":"0.10","x":0.241,"y":-0.056},{"p":3,"t":"0.25","x":0.193,"y":-0.026},{"p":3,"t":"0.75","x":0.012,"y":-0.148},{"p":3,"t":"0.50","x":0.004,"y":-0.2},
{"p":4,"t":"0.10","x":0.238,"y":-0.066},{"p":4,"t":"0.25","x":0.195,"y":-0.036},{"p":4,"t":"0.75","x":0.01,"y":-0.148},{"p":4,"t":"0.50","x":0.002,"y":-0.2},
{"p":5,"t":"0.10","x":-0.223,"y":-0.038},{"p":5,"t":"0.10","x":-0.074,"y":-0.313},{"p":5,"t":"0.25","x":-0.224,"y":-0.402},{"p":5,"t":"0.50","x":0.012,"y":-0.074},{"p":5,"t":"0.75","x":-0.106,"y":-0.209},
{"p":6,"t":"0.10","x":-0.227,"y":-0.04},{"p":6,"t":"0.10","x":-0.075,"y":-0.307},{"p":6,"t":"0.25","x":-0.225,"y":-0.406},{"p":6,"t":"0.50","x":0.009,"y":-0.08},{"p":6,"t":"0.75","x":-0.107,"y":-0.213},
{"p":7,"t":"0.10","x":0.068,"y":-0.041},{"p":7,"t":"0.25","x":0.236,"y":-0.368},{"p":7,"t":"0.50","x":0.172,"y":-0.246},{"p":7,"t":"0.75","x":0.096,"y":-0.3},
{"p":8,"t":"0.25","x":0.0,"y":-0.073},{"p":8,"t":"0.10","x":0.176,"y":-0.103},{"p":8,"t":"0.50","x":0.171,"y":-0.252},{"p":8,"t":"0.75","x":0.094,"y":-0.298}
],
"stars": [
{"p":1,"c":"m","x":-0.296,"y":-0.137},{"p":1,"c":"c","x":-0.327,"y":-0.157},{"p":1,"c":"y","x":-0.296,"y":-0.137},{"p":1,"c":"r","x":-0.283,"y":-0.286},{"p":1,"c":"r","x":0.014,"y":0.194},
{"p":2,"c":"m","x":-0.296,"y":-0.137},{"p":2,"c":"c","x":-0.33,"y":-0.157},{"p":2,"c":"y","x":-0.296,"y":-0.137},{"p":2,"c":"r","x":-0.287,"y":-0.286},{"p":2,"c":"r","x":0.011,"y":0.194},
{"p":3,"c":"m","x":0.005,"y":-0.135},{"p":3,"c":"c","x":-0.155,"y":-0.151},{"p":3,"c":"y","x":-0.01,"y":-0.131},{"p":3,"c":"r","x":-0.467,"y":-0.28},
{"p":4,"c":"m","x":0.0,"y":-0.141},{"p":4,"c":"c","x":-0.156,"y":-0.155},{"p":4,"c":"y","x":-0.01,"y":-0.139},{"p":4,"c":"r","x":-0.469,"y":-0.284},
{"p":5,"c":"m","x":-0.149,"y":0.311},{"p":5,"c":"c","x":-0.003,"y":0.418},{"p":5,"c":"y","x":-0.134,"y":0.319},{"p":5,"c":"r","x":0.183,"y":0.478},
{"p":6,"c":"m","x":-0.146,"y":0.311},{"p":6,"c":"c","x":-0.003,"y":0.414},{"p":6,"c":"y","x":-0.135,"y":0.319},{"p":6,"c":"r","x":0.18,"y":0.484},
{"p":7,"c":"m","x":0.197,"y":-0.175},{"p":7,"c":"c","x":0.146,"y":-0.218},{"p":7,"c":"y","x":0.195,"y":-0.179},{"p":7,"c":"r","x":-0.022,"y":-0.255},
{"p":8,"c":"m","x":0.196,"y":-0.175},{"p":8,"c":"c","x":0.144,"y":-0.222},{"p":8,"c":"y","x":0.193,"y":-0.179},{"p":8,"c":"r","x":-0.024,"y":-0.252}
]
},
"columns": 2,
"spacing": {"row": 129.5, "column": 312},
"bounds": "flush",
"resolve": {"scale": {"strokeDash": "independent", "strokeWidth": "independent", "color": "independent"}},
"concat": [
{
 "width": 389, "height": 294,
 "view": {"stroke": "black", "strokeWidth": 1},
 "resolve": {"axis": {"x": "independent", "y": "independent"}},
 "layer": [
  {"data": {"values": [{}]}, "mark": {"type": "rule", "color": "#0000ff", "strokeWidth": 1}, "encoding": {"x": {"datum": 0, "type": "quantitative", "scale": {"domain": [-0.5, 0.5], "nice": false, "zero": false}, "axis": null}}},
  {"data": {"values": [{}]}, "mark": {"type": "rule", "color": "#0000ff", "strokeWidth": 1}, "encoding": {"y": {"datum": 0, "type": "quantitative", "scale": {"domain": [-1, 0.75], "nice": false, "zero": false}, "axis": null}}},
  {"data": {"values": [{}]}, "mark": {"type": "rule", "color": "black", "strokeWidth": 2, "strokeDash": [7.4, 3.2]}, "encoding": {"y": {"datum": 0.14, "type": "quantitative", "scale": {"domain": [-1, 0.75], "nice": false, "zero": false}, "axis": null}}},
  {"data": {"values": [{"v": -0.05}, {"v": 0.25}]}, "mark": {"type": "rule", "color": "black", "strokeWidth": 2, "strokeDash": [7.4, 3.2]}, "encoding": {"x": {"field": "v", "type": "quantitative", "scale": {"domain": [-0.5, 0.5], "nice": false, "zero": false}, "axis": null}, "y": {"datum": -1, "type": "quantitative", "scale": {"domain": [-1, 0.75], "nice": false, "zero": false}, "axis": null}, "y2": {"datum": 0.115}}},
  {"data": {"name": "cont"}, "transform": [{"filter": "datum.q == 1"}], "mark": {"type": "line", "color": "black", "strokeWidth": 1.8, "clip": true}, "encoding": {"x": {"field": "x", "type": "quantitative", "scale": {"domain": [-0.5, 0.5], "nice": false, "zero": false}, "axis": {"orient": "bottom", "values": [-0.4, -0.2, 0, 0.2, 0.4], "format": ".1f", "title": "[Mg/Si]", "labelPadding": 3, "titlePadding": 3}}, "y": {"field": "y", "type": "quantitative", "scale": {"domain": [-1, 0.75], "nice": false, "zero": false}, "axis": {"orient": "left", "values": [-1, -0.8, -0.6, -0.4, -0.2, 0, 0.2, 0.4, 0.6], "format": ".1f", "title": "[C/O]", "labelPadding": 4, "titlePadding": 5}}, "detail": {"field": "g"}, "order": {"field": "i"}}},
  {"data": {"name": "model"}, "transform": [{"filter": "datum.p == 1"}], "mark": {"type": "line", "color": "black", "clip": true, "strokeJoin": "round"}, "encoding": {"x": {"field": "x", "type": "quantitative", "scale": {"domain": [-0.5, 0.5], "nice": false, "zero": false}, "axis": {"orient": "top", "values": [-0.4, -0.2, 0, 0.2, 0.4], "labels": false, "title": null}}, "y": {"field": "y", "type": "quantitative", "scale": {"domain": [-1, 0.75], "nice": false, "zero": false}, "axis": {"orient": "right", "values": [-1, -0.8, -0.6, -0.4, -0.2, 0, 0.2, 0.4, 0.6], "labels": false, "title": null}}, "detail": {"field": "g"}, "order": {"field": "i"},
    "strokeDash": {"field": "s", "type": "nominal", "scale": {"domain": ["faint 0%", "faint 10%", "faint 25%", "faint 50%", "faint 75%", "faint 100%"], "range": [[1, 0], [3.7, 1.6], [1, 0], [1, 1.65], [6.4, 1.6, 1, 1.6], [5, 9]]}, "legend": {"title": null, "orient": "top-left", "offset": 6, "columns": 2, "columnPadding": 12, "rowPadding": 0, "clipHeight": 18.5, "symbolType": "stroke", "symbolSize": 900, "symbolStrokeColor": "black", "labelFontSize": 12.5, "labelFont": "DejaVu Sans", "labelOffset": 7, "labelColor": "black", "padding": 3, "fillColor": "white", "strokeColor": "#cccccc", "cornerRadius": 3, "labelLimit": 300}},
    "strokeWidth": {"field": "s", "type": "nominal", "scale": {"type": "ordinal", "domain": ["faint 0%", "faint 10%", "faint 25%", "faint 50%", "faint 75%", "faint 100%"], "range": [5.5, 1, 1, 1, 1, 5]}, "legend": {"title": null, "orient": "top-left", "offset": 6, "columns": 2, "columnPadding": 12, "rowPadding": 0, "clipHeight": 18.5, "symbolType": "stroke", "symbolSize": 900, "symbolStrokeColor": "black", "labelFontSize": 12.5, "labelFont": "DejaVu Sans", "labelOffset": 7, "labelColor": "black", "padding": 3, "fillColor": "white", "strokeColor": "#cccccc", "cornerRadius": 3, "labelLimit": 300}}}},
  {"data": {"name": "stars"}, "transform": [{"filter": "datum.p == 1"}], "mark": {"type": "point", "shape": "M0,-1L0.2245,-0.309L0.9511,-0.309L0.3633,0.118L0.5878,0.809L0,0.382L-0.5878,0.809L-0.3633,0.118L-0.9511,-0.309L-0.2245,-0.309Z", "size": 320, "filled": true, "opacity": 1}, "encoding": {"x": {"field": "x", "type": "quantitative", "scale": {"domain": [-0.5, 0.5], "nice": false, "zero": false}, "axis": null}, "y": {"field": "y", "type": "quantitative", "scale": {"domain": [-1, 0.75], "nice": false, "zero": false}, "axis": null}, "color": {"field": "c", "type": "nominal", "scale": {"domain": ["r", "c", "y", "m"], "range": ["#ff0000", "#00bfbf", "#bfbf00", "#bf00bf"]}, "legend": null}}},
  {"data": {"name": "clab"}, "transform": [{"filter": "datum.p == 1"}], "mark": {"type": "text", "color": "#008000", "fontSize": 7.5}, "encoding": {"x": {"field": "x", "type": "quantitative", "scale": {"domain": [-0.5, 0.5], "nice": false, "zero": false}, "axis": null}, "y": {"field": "y", "type": "quantitative", "scale": {"domain": [-1, 0.75], "nice": false, "zero": false}, "axis": null}, "text": {"field": "t"}}}
 ]
},
{
 "width": 386, "height": 294,
 "view": {"stroke": null},
 "resolve": {"axis": {"x": "independent", "y": "independent"}},
 "layer": [
  {"data": {"values": [{}]}, "mark": {"type": "rule", "color": "#0000ff", "strokeWidth": 1}, "encoding": {"x": {"datum": 0, "type": "quantitative", "scale": {"domain": [-0.5, 0.4923], "nice": false, "zero": false}, "axis": null}}},
  {"data": {"values": [{}]}, "mark": {"type": "rule", "color": "#0000ff", "strokeWidth": 1}, "encoding": {"y": {"datum": 0, "type": "quantitative", "scale": {"domain": [-1, 0.75], "nice": false, "zero": false}, "axis": null}}},
  {"data": {"values": [{}]}, "mark": {"type": "rule", "color": "black", "strokeWidth": 2, "strokeDash": [7.4, 3.2]}, "encoding": {"y": {"datum": 0.14, "type": "quantitative", "scale": {"domain": [-1, 0.75], "nice": false, "zero": false}, "axis": null}}},
  {"data": {"values": [{"v": -0.05}, {"v": 0.25}]}, "mark": {"type": "rule", "color": "black", "strokeWidth": 2, "strokeDash": [7.4, 3.2]}, "encoding": {"x": {"field": "v", "type": "quantitative", "scale": {"domain": [-0.5, 0.4923], "nice": false, "zero": false}, "axis": null}, "y": {"datum": -1, "type": "quantitative", "scale": {"domain": [-1, 0.75], "nice": false, "zero": false}, "axis": null}, "y2": {"datum": 0.115}}},
  {"data": {"name": "cont"}, "transform": [{"filter": "datum.q == 1"}], "mark": {"type": "line", "color": "black", "strokeWidth": 1.8, "clip": true}, "encoding": {"x": {"field": "x", "type": "quantitative", "scale": {"domain": [-0.5, 0.4923], "nice": false, "zero": false}, "axis": {"orient": "bottom", "values": [-0.4, -0.2, 0, 0.2, 0.4], "format": ".1f", "title": "[Mg/Si]", "labelPadding": 3, "titlePadding": 3}}, "y": {"field": "y", "type": "quantitative", "scale": {"domain": [-1, 0.75], "nice": false, "zero": false}, "axis": {"orient": "left", "values": [-1, -0.8, -0.6, -0.4, -0.2, 0, 0.2, 0.4, 0.6], "format": ".1f", "title": "[C/O]", "labelPadding": 4, "titlePadding": 5}}, "detail": {"field": "g"}, "order": {"field": "i"}}},
  {"data": {"name": "model"}, "transform": [{"filter": "datum.p == 2"}], "mark": {"type": "line", "color": "black", "clip": true, "strokeJoin": "round"}, "encoding": {"x": {"field": "x", "type": "quantitative", "scale": {"domain": [-0.5, 0.4923], "nice": false, "zero": false}, "axis": {"orient": "top", "values": [-0.4, -0.2, 0, 0.2, 0.4], "labels": false, "title": null}}, "y": {"field": "y", "type": "quantitative", "scale": {"domain": [-1, 0.75], "nice": false, "zero": false}, "axis": null}, "detail": {"field": "g"}, "order": {"field": "i"},
    "strokeDash": {"field": "s", "type": "nominal", "scale": {"domain": ["faint 0%", "faint 10%", "faint 25%", "faint 50%", "faint 75%", "faint 100%"], "range": [[1, 0], [3.7, 1.6], [1, 0], [1, 1.65], [6.4, 1.6, 1, 1.6], [5, 9]]}, "legend": null},
    "strokeWidth": {"field": "s", "type": "nominal", "scale": {"type": "ordinal", "domain": ["faint 0%", "faint 10%", "faint 25%", "faint 50%", "faint 75%", "faint 100%"], "range": [5.5, 1, 1, 1, 1, 5]}, "legend": null}}},
  {"data": {"name": "stars"}, "transform": [{"filter": "datum.p == 2"}], "mark": {"type": "point", "shape": "M0,-1L0.2245,-0.309L0.9511,-0.309L0.3633,0.118L0.5878,0.809L0,0.382L-0.5878,0.809L-0.3633,0.118L-0.9511,-0.309L-0.2245,-0.309Z", "size": 320, "filled": true, "opacity": 1}, "encoding": {"x": {"field": "x", "type": "quantitative", "scale": {"domain": [-0.5, 0.4923], "nice": false, "zero": false}, "axis": null}, "y": {"field": "y", "type": "quantitative", "scale": {"domain": [-1, 0.75], "nice": false, "zero": false}, "axis": null}, "color": {"field": "c", "type": "nominal", "scale": {"domain": ["r", "c", "y", "m"], "range": ["#ff0000", "#00bfbf", "#bfbf00", "#bf00bf"]}, "legend": null}}},
  {"data": {"name": "clab"}, "transform": [{"filter": "datum.p == 2"}], "mark": {"type": "text", "color": "#008000", "fontSize": 7.5}, "encoding": {"x": {"field": "x", "type": "quantitative", "scale": {"domain": [-0.5, 0.4923], "nice": false, "zero": false}, "axis": null}, "y": {"field": "y", "type": "quantitative", "scale": {"domain": [-1, 0.75], "nice": false, "zero": false}, "axis": null}, "text": {"field": "t"}}},
  {"data": {"values": [{}]}, "mark": {"type": "rule", "color": "black", "strokeWidth": 1}, "encoding": {"x": {"datum": -0.5, "type": "quantitative", "scale": {"domain": [-0.5, 0.4923], "nice": false, "zero": false}, "axis": null}}},
  {"data": {"values": [{"v": 0.75}, {"v": -1}]}, "mark": {"type": "rule", "color": "black", "strokeWidth": 1}, "encoding": {"y": {"field": "v", "type": "quantitative", "scale": {"domain": [-1, 0.75], "nice": false, "zero": false}, "axis": null}}}
 ]
},
{
 "width": 389, "height": 294,
 "view": {"stroke": "black", "strokeWidth": 1},
 "resolve": {"axis": {"x": "independent", "y": "independent"}},
 "layer": [
  {"data": {"values": [{}]}, "mark": {"type": "rule", "color": "#0000ff", "strokeWidth": 1}, "encoding": {"x": {"datum": 0, "type": "quantitative", "scale": {"domain": [-0.5, 0.5], "nice": false, "zero": false}, "axis": null}}},
  {"data": {"values": [{}]}, "mark": {"type": "rule", "color": "#0000ff", "strokeWidth": 1}, "encoding": {"y": {"datum": 0, "type": "quantitative", "scale": {"domain": [-1, 0.75], "nice": false, "zero": false}, "axis": null}}},
  {"data": {"values": [{}]}, "mark": {"type": "rule", "color": "black", "strokeWidth": 2, "strokeDash": [7.4, 3.2]}, "encoding": {"y": {"datum": 0.14, "type": "quantitative", "scale": {"domain": [-1, 0.75], "nice": false, "zero": false}, "axis": null}}},
  {"data": {"name": "cont"}, "transform": [{"filter": "datum.q == 2"}], "mark": {"type": "line", "color": "black", "strokeWidth": 1.8, "clip": true}, "encoding": {"x": {"field": "x", "type": "quantitative", "scale": {"domain": [-0.5, 0.5], "nice": false, "zero": false}, "axis": {"orient": "bottom", "values": [-0.4, -0.2, 0, 0.2, 0.4], "format": ".1f", "title": "[N/O]", "labelPadding": 3, "titlePadding": 3}}, "y": {"field": "y", "type": "quantitative", "scale": {"domain": [-1, 0.75], "nice": false, "zero": false}, "axis": {"orient": "left", "values": [-1, -0.8, -0.6, -0.4, -0.2, 0, 0.2, 0.4, 0.6], "format": ".1f", "title": "[C/O]", "labelPadding": 4, "titlePadding": 5}}, "detail": {"field": "g"}, "order": {"field": "i"}}},
  {"data": {"name": "model"}, "transform": [{"filter": "datum.p == 3"}], "mark": {"type": "line", "color": "black", "clip": true, "strokeJoin": "round"}, "encoding": {"x": {"field": "x", "type": "quantitative", "scale": {"domain": [-0.5, 0.5], "nice": false, "zero": false}, "axis": {"orient": "top", "values": [-0.4, -0.2, 0, 0.2, 0.4], "labels": false, "title": null}}, "y": {"field": "y", "type": "quantitative", "scale": {"domain": [-1, 0.75], "nice": false, "zero": false}, "axis": {"orient": "right", "values": [-1, -0.8, -0.6, -0.4, -0.2, 0, 0.2, 0.4, 0.6], "labels": false, "title": null}}, "detail": {"field": "g"}, "order": {"field": "i"},
    "strokeDash": {"field": "s", "type": "nominal", "scale": {"domain": ["faint 0%", "faint 10%", "faint 25%", "faint 50%", "faint 75%", "faint 100%"], "range": [[1, 0], [3.7, 1.6], [1, 0], [1, 1.65], [6.4, 1.6, 1, 1.6], [5, 9]]}, "legend": null},
    "strokeWidth": {"field": "s", "type": "nominal", "scale": {"type": "ordinal", "domain": ["faint 0%", "faint 10%", "faint 25%", "faint 50%", "faint 75%", "faint 100%"], "range": [5.5, 1, 1, 1, 1, 5]}, "legend": null}}},
  {"data": {"name": "stars"}, "transform": [{"filter": "datum.p == 3"}], "mark": {"type": "point", "shape": "M0,-1L0.2245,-0.309L0.9511,-0.309L0.3633,0.118L0.5878,0.809L0,0.382L-0.5878,0.809L-0.3633,0.118L-0.9511,-0.309L-0.2245,-0.309Z", "size": 320, "filled": true, "opacity": 1}, "encoding": {"x": {"field": "x", "type": "quantitative", "scale": {"domain": [-0.5, 0.5], "nice": false, "zero": false}, "axis": null}, "y": {"field": "y", "type": "quantitative", "scale": {"domain": [-1, 0.75], "nice": false, "zero": false}, "axis": null}, "color": {"field": "c", "type": "nominal", "scale": {"domain": ["r", "c", "y", "m"], "range": ["#ff0000", "#00bfbf", "#bfbf00", "#bf00bf"]}, "legend": null}}},
  {"data": {"name": "clab"}, "transform": [{"filter": "datum.p == 3"}], "mark": {"type": "text", "color": "#008000", "fontSize": 7.5}, "encoding": {"x": {"field": "x", "type": "quantitative", "scale": {"domain": [-0.5, 0.5], "nice": false, "zero": false}, "axis": null}, "y": {"field": "y", "type": "quantitative", "scale": {"domain": [-1, 0.75], "nice": false, "zero": false}, "axis": null}, "text": {"field": "t"}}}
 ]
},
{
 "width": 386, "height": 294,
 "view": {"stroke": null},
 "resolve": {"axis": {"x": "independent", "y": "independent"}},
 "layer": [
  {"data": {"values": [{}]}, "mark": {"type": "rule", "color": "#0000ff", "strokeWidth": 1}, "encoding": {"x": {"datum": 0, "type": "quantitative", "scale": {"domain": [-0.5, 0.4923], "nice": false, "zero": false}, "axis": null}}},
  {"data": {"values": [{}]}, "mark": {"type": "rule", "color": "#0000ff", "strokeWidth": 1}, "encoding": {"y": {"datum": 0, "type": "quantitative", "scale": {"domain": [-1, 0.75], "nice": false, "zero": false}, "axis": null}}},
  {"data": {"values": [{}]}, "mark": {"type": "rule", "color": "black", "strokeWidth": 2, "strokeDash": [7.4, 3.2]}, "encoding": {"y": {"datum": 0.14, "type": "quantitative", "scale": {"domain": [-1, 0.75], "nice": false, "zero": false}, "axis": null}}},
  {"data": {"name": "cont"}, "transform": [{"filter": "datum.q == 2"}], "mark": {"type": "line", "color": "black", "strokeWidth": 1.8, "clip": true}, "encoding": {"x": {"field": "x", "type": "quantitative", "scale": {"domain": [-0.5, 0.4923], "nice": false, "zero": false}, "axis": {"orient": "bottom", "values": [-0.4, -0.2, 0, 0.2, 0.4], "format": ".1f", "title": "[N/O]", "labelPadding": 3, "titlePadding": 3}}, "y": {"field": "y", "type": "quantitative", "scale": {"domain": [-1, 0.75], "nice": false, "zero": false}, "axis": {"orient": "left", "values": [-1, -0.8, -0.6, -0.4, -0.2, 0, 0.2, 0.4, 0.6], "format": ".1f", "title": "[C/O]", "labelPadding": 4, "titlePadding": 5}}, "detail": {"field": "g"}, "order": {"field": "i"}}},
  {"data": {"name": "model"}, "transform": [{"filter": "datum.p == 4"}], "mark": {"type": "line", "color": "black", "clip": true, "strokeJoin": "round"}, "encoding": {"x": {"field": "x", "type": "quantitative", "scale": {"domain": [-0.5, 0.4923], "nice": false, "zero": false}, "axis": {"orient": "top", "values": [-0.4, -0.2, 0, 0.2, 0.4], "labels": false, "title": null}}, "y": {"field": "y", "type": "quantitative", "scale": {"domain": [-1, 0.75], "nice": false, "zero": false}, "axis": null}, "detail": {"field": "g"}, "order": {"field": "i"},
    "strokeDash": {"field": "s", "type": "nominal", "scale": {"domain": ["faint 0%", "faint 10%", "faint 25%", "faint 50%", "faint 75%", "faint 100%"], "range": [[1, 0], [3.7, 1.6], [1, 0], [1, 1.65], [6.4, 1.6, 1, 1.6], [5, 9]]}, "legend": null},
    "strokeWidth": {"field": "s", "type": "nominal", "scale": {"type": "ordinal", "domain": ["faint 0%", "faint 10%", "faint 25%", "faint 50%", "faint 75%", "faint 100%"], "range": [5.5, 1, 1, 1, 1, 5]}, "legend": null}}},
  {"data": {"name": "stars"}, "transform": [{"filter": "datum.p == 4"}], "mark": {"type": "point", "shape": "M0,-1L0.2245,-0.309L0.9511,-0.309L0.3633,0.118L0.5878,0.809L0,0.382L-0.5878,0.809L-0.3633,0.118L-0.9511,-0.309L-0.2245,-0.309Z", "size": 320, "filled": true, "opacity": 1}, "encoding": {"x": {"field": "x", "type": "quantitative", "scale": {"domain": [-0.5, 0.4923], "nice": false, "zero": false}, "axis": null}, "y": {"field": "y", "type": "quantitative", "scale": {"domain": [-1, 0.75], "nice": false, "zero": false}, "axis": null}, "color": {"field": "c", "type": "nominal", "scale": {"domain": ["r", "c", "y", "m"], "range": ["#ff0000", "#00bfbf", "#bfbf00", "#bf00bf"]}, "legend": null}}},
  {"data": {"name": "clab"}, "transform": [{"filter": "datum.p == 4"}], "mark": {"type": "text", "color": "#008000", "fontSize": 7.5}, "encoding": {"x": {"field": "x", "type": "quantitative", "scale": {"domain": [-0.5, 0.4923], "nice": false, "zero": false}, "axis": null}, "y": {"field": "y", "type": "quantitative", "scale": {"domain": [-1, 0.75], "nice": false, "zero": false}, "axis": null}, "text": {"field": "t"}}},
  {"data": {"values": [{}]}, "mark": {"type": "rule", "color": "black", "strokeWidth": 1}, "encoding": {"x": {"datum": -0.5, "type": "quantitative", "scale": {"domain": [-0.5, 0.4923], "nice": false, "zero": false}, "axis": null}}},
  {"data": {"values": [{"v": 0.75}, {"v": -1}]}, "mark": {"type": "rule", "color": "black", "strokeWidth": 1}, "encoding": {"y": {"field": "v", "type": "quantitative", "scale": {"domain": [-1, 0.75], "nice": false, "zero": false}, "axis": null}}}
 ]
},
{
 "width": 389, "height": 294,
 "view": {"stroke": "black", "strokeWidth": 1},
 "resolve": {"axis": {"x": "independent", "y": "independent"}},
 "layer": [
  {"data": {"values": [{}]}, "mark": {"type": "rule", "color": "#0000ff", "strokeWidth": 1}, "encoding": {"x": {"datum": 0, "type": "quantitative", "scale": {"domain": [-0.5, 0.5], "nice": false, "zero": false}, "axis": null}}},
  {"data": {"values": [{}]}, "mark": {"type": "rule", "color": "#0000ff", "strokeWidth": 1}, "encoding": {"y": {"datum": 0, "type": "quantitative", "scale": {"domain": [-1, 0.75], "nice": false, "zero": false}, "axis": null}}},
  {"data": {"name": "cont"}, "transform": [{"filter": "datum.q == 3"}], "mark": {"type": "line", "color": "black", "strokeWidth": 1.8, "clip": true}, "encoding": {"x": {"field": "x", "type": "quantitative", "scale": {"domain": [-0.5, 0.5], "nice": false, "zero": false}, "axis": {"orient": "bottom", "values": [-0.4, -0.2, 0, 0.2, 0.4], "format": ".1f", "title": "[C/N]", "labelPadding": 3, "titlePadding": 3}}, "y": {"field": "y", "type": "quantitative", "scale": {"domain": [-1, 0.75], "nice": false, "zero": false}, "axis": {"orient": "left", "values": [-1, -0.8, -0.6, -0.4, -0.2, 0, 0.2, 0.4, 0.6], "format": ".1f", "title": "[S/N]", "labelPadding": 4, "titlePadding": 5}}, "detail": {"field": "g"}, "order": {"field": "i"}}},
  {"data": {"name": "model"}, "transform": [{"filter": "datum.p == 5"}], "mark": {"type": "line", "color": "black", "clip": true, "strokeJoin": "round"}, "encoding": {"x": {"field": "x", "type": "quantitative", "scale": {"domain": [-0.5, 0.5], "nice": false, "zero": false}, "axis": {"orient": "top", "values": [-0.4, -0.2, 0, 0.2, 0.4], "labels": false, "title": null}}, "y": {"field": "y", "type": "quantitative", "scale": {"domain": [-1, 0.75], "nice": false, "zero": false}, "axis": {"orient": "right", "values": [-1, -0.8, -0.6, -0.4, -0.2, 0, 0.2, 0.4, 0.6], "labels": false, "title": null}}, "detail": {"field": "g"}, "order": {"field": "i"},
    "strokeDash": {"field": "s", "type": "nominal", "scale": {"domain": ["faint 0%", "faint 10%", "faint 25%", "faint 50%", "faint 75%", "faint 100%"], "range": [[1, 0], [3.7, 1.6], [1, 0], [1, 1.65], [6.4, 1.6, 1, 1.6], [5, 9]]}, "legend": null},
    "strokeWidth": {"field": "s", "type": "nominal", "scale": {"type": "ordinal", "domain": ["faint 0%", "faint 10%", "faint 25%", "faint 50%", "faint 75%", "faint 100%"], "range": [5.5, 1, 1, 1, 1, 5]}, "legend": null}}},
  {"data": {"name": "stars"}, "transform": [{"filter": "datum.p == 5"}], "mark": {"type": "point", "shape": "M0,-1L0.2245,-0.309L0.9511,-0.309L0.3633,0.118L0.5878,0.809L0,0.382L-0.5878,0.809L-0.3633,0.118L-0.9511,-0.309L-0.2245,-0.309Z", "size": 320, "filled": true, "opacity": 1}, "encoding": {"x": {"field": "x", "type": "quantitative", "scale": {"domain": [-0.5, 0.5], "nice": false, "zero": false}, "axis": null}, "y": {"field": "y", "type": "quantitative", "scale": {"domain": [-1, 0.75], "nice": false, "zero": false}, "axis": null}, "color": {"field": "c", "type": "nominal", "scale": {"domain": ["r", "c", "y", "m"], "range": ["#ff0000", "#00bfbf", "#bfbf00", "#bf00bf"]}, "legend": null}}},
  {"data": {"name": "clab"}, "transform": [{"filter": "datum.p == 5"}], "mark": {"type": "text", "color": "#008000", "fontSize": 7.5}, "encoding": {"x": {"field": "x", "type": "quantitative", "scale": {"domain": [-0.5, 0.5], "nice": false, "zero": false}, "axis": null}, "y": {"field": "y", "type": "quantitative", "scale": {"domain": [-1, 0.75], "nice": false, "zero": false}, "axis": null}, "text": {"field": "t"}}}
 ]
},
{
 "width": 386, "height": 294,
 "view": {"stroke": null},
 "resolve": {"axis": {"x": "independent", "y": "independent"}},
 "layer": [
  {"data": {"values": [{}]}, "mark": {"type": "rule", "color": "#0000ff", "strokeWidth": 1}, "encoding": {"x": {"datum": 0, "type": "quantitative", "scale": {"domain": [-0.5, 0.4923], "nice": false, "zero": false}, "axis": null}}},
  {"data": {"values": [{}]}, "mark": {"type": "rule", "color": "#0000ff", "strokeWidth": 1}, "encoding": {"y": {"datum": 0, "type": "quantitative", "scale": {"domain": [-1, 0.75], "nice": false, "zero": false}, "axis": null}}},
  {"data": {"name": "cont"}, "transform": [{"filter": "datum.q == 3"}], "mark": {"type": "line", "color": "black", "strokeWidth": 1.8, "clip": true}, "encoding": {"x": {"field": "x", "type": "quantitative", "scale": {"domain": [-0.5, 0.4923], "nice": false, "zero": false}, "axis": {"orient": "bottom", "values": [-0.4, -0.2, 0, 0.2, 0.4], "format": ".1f", "title": "[C/N]", "labelPadding": 3, "titlePadding": 3}}, "y": {"field": "y", "type": "quantitative", "scale": {"domain": [-1, 0.75], "nice": false, "zero": false}, "axis": {"orient": "left", "values": [-1, -0.8, -0.6, -0.4, -0.2, 0, 0.2, 0.4, 0.6], "format": ".1f", "title": "[S/N]", "labelPadding": 4, "titlePadding": 5}}, "detail": {"field": "g"}, "order": {"field": "i"}}},
  {"data": {"name": "model"}, "transform": [{"filter": "datum.p == 6"}], "mark": {"type": "line", "color": "black", "clip": true, "strokeJoin": "round"}, "encoding": {"x": {"field": "x", "type": "quantitative", "scale": {"domain": [-0.5, 0.4923], "nice": false, "zero": false}, "axis": {"orient": "top", "values": [-0.4, -0.2, 0, 0.2, 0.4], "labels": false, "title": null}}, "y": {"field": "y", "type": "quantitative", "scale": {"domain": [-1, 0.75], "nice": false, "zero": false}, "axis": null}, "detail": {"field": "g"}, "order": {"field": "i"},
    "strokeDash": {"field": "s", "type": "nominal", "scale": {"domain": ["faint 0%", "faint 10%", "faint 25%", "faint 50%", "faint 75%", "faint 100%"], "range": [[1, 0], [3.7, 1.6], [1, 0], [1, 1.65], [6.4, 1.6, 1, 1.6], [5, 9]]}, "legend": null},
    "strokeWidth": {"field": "s", "type": "nominal", "scale": {"type": "ordinal", "domain": ["faint 0%", "faint 10%", "faint 25%", "faint 50%", "faint 75%", "faint 100%"], "range": [5.5, 1, 1, 1, 1, 5]}, "legend": null}}},
  {"data": {"name": "stars"}, "transform": [{"filter": "datum.p == 6"}], "mark": {"type": "point", "shape": "M0,-1L0.2245,-0.309L0.9511,-0.309L0.3633,0.118L0.5878,0.809L0,0.382L-0.5878,0.809L-0.3633,0.118L-0.9511,-0.309L-0.2245,-0.309Z", "size": 320, "filled": true, "opacity": 1}, "encoding": {"x": {"field": "x", "type": "quantitative", "scale": {"domain": [-0.5, 0.4923], "nice": false, "zero": false}, "axis": null}, "y": {"field": "y", "type": "quantitative", "scale": {"domain": [-1, 0.75], "nice": false, "zero": false}, "axis": null}, "color": {"field": "c", "type": "nominal", "scale": {"domain": ["r", "c", "y", "m"], "range": ["#ff0000", "#00bfbf", "#bfbf00", "#bf00bf"]}, "legend": null}}},
  {"data": {"name": "clab"}, "transform": [{"filter": "datum.p == 6"}], "mark": {"type": "text", "color": "#008000", "fontSize": 7.5}, "encoding": {"x": {"field": "x", "type": "quantitative", "scale": {"domain": [-0.5, 0.4923], "nice": false, "zero": false}, "axis": null}, "y": {"field": "y", "type": "quantitative", "scale": {"domain": [-1, 0.75], "nice": false, "zero": false}, "axis": null}, "text": {"field": "t"}}},
  {"data": {"values": [{}]}, "mark": {"type": "rule", "color": "black", "strokeWidth": 1}, "encoding": {"x": {"datum": -0.5, "type": "quantitative", "scale": {"domain": [-0.5, 0.4923], "nice": false, "zero": false}, "axis": null}}},
  {"data": {"values": [{"v": 0.75}, {"v": -1}]}, "mark": {"type": "rule", "color": "black", "strokeWidth": 1}, "encoding": {"y": {"field": "v", "type": "quantitative", "scale": {"domain": [-1, 0.75], "nice": false, "zero": false}, "axis": null}}}
 ]
},
{
 "width": 389, "height": 299,
 "view": {"stroke": "black", "strokeWidth": 1},
 "resolve": {"axis": {"x": "independent", "y": "independent"}},
 "layer": [
  {"data": {"values": [{}]}, "mark": {"type": "rule", "color": "#0000ff", "strokeWidth": 1}, "encoding": {"x": {"datum": 0, "type": "quantitative", "scale": {"domain": [-0.5, 0.5], "nice": false, "zero": false}, "axis": null}}},
  {"data": {"values": [{}]}, "mark": {"type": "rule", "color": "#0000ff", "strokeWidth": 1}, "encoding": {"y": {"datum": 0, "type": "quantitative", "scale": {"domain": [-1, 0.75], "nice": false, "zero": false}, "axis": null}}},
  {"data": {"name": "cont"}, "transform": [{"filter": "datum.q == 4"}], "mark": {"type": "line", "color": "black", "strokeWidth": 1.8, "clip": true}, "encoding": {"x": {"field": "x", "type": "quantitative", "scale": {"domain": [-0.5, 0.5], "nice": false, "zero": false}, "axis": {"orient": "bottom", "values": [-0.4, -0.2, 0, 0.2, 0.4], "format": ".1f", "title": "[S/Si]", "labelPadding": 3, "titlePadding": 3}}, "y": {"field": "y", "type": "quantitative", "scale": {"domain": [-1, 0.75], "nice": false, "zero": false}, "axis": {"orient": "left", "values": [-1, -0.8, -0.6, -0.4, -0.2, 0, 0.2, 0.4, 0.6], "format": ".1f", "title": "[Mg/O]", "labelPadding": 4, "titlePadding": 5}}, "detail": {"field": "g"}, "order": {"field": "i"}}},
  {"data": {"name": "model"}, "transform": [{"filter": "datum.p == 7"}], "mark": {"type": "line", "color": "black", "clip": true, "strokeJoin": "round"}, "encoding": {"x": {"field": "x", "type": "quantitative", "scale": {"domain": [-0.5, 0.5], "nice": false, "zero": false}, "axis": {"orient": "top", "values": [-0.4, -0.2, 0, 0.2, 0.4], "labels": false, "title": null}}, "y": {"field": "y", "type": "quantitative", "scale": {"domain": [-1, 0.75], "nice": false, "zero": false}, "axis": {"orient": "right", "values": [-1, -0.8, -0.6, -0.4, -0.2, 0, 0.2, 0.4, 0.6], "labels": false, "title": null}}, "detail": {"field": "g"}, "order": {"field": "i"},
    "strokeDash": {"field": "s", "type": "nominal", "scale": {"domain": ["faint 0%", "faint 10%", "faint 25%", "faint 50%", "faint 75%", "faint 100%"], "range": [[1, 0], [3.7, 1.6], [1, 0], [1, 1.65], [6.4, 1.6, 1, 1.6], [5, 9]]}, "legend": null},
    "strokeWidth": {"field": "s", "type": "nominal", "scale": {"type": "ordinal", "domain": ["faint 0%", "faint 10%", "faint 25%", "faint 50%", "faint 75%", "faint 100%"], "range": [5.5, 1, 1, 1, 1, 5]}, "legend": null}}},
  {"data": {"name": "stars"}, "transform": [{"filter": "datum.p == 7"}], "mark": {"type": "point", "shape": "M0,-1L0.2245,-0.309L0.9511,-0.309L0.3633,0.118L0.5878,0.809L0,0.382L-0.5878,0.809L-0.3633,0.118L-0.9511,-0.309L-0.2245,-0.309Z", "size": 320, "filled": true, "opacity": 1}, "encoding": {"x": {"field": "x", "type": "quantitative", "scale": {"domain": [-0.5, 0.5], "nice": false, "zero": false}, "axis": null}, "y": {"field": "y", "type": "quantitative", "scale": {"domain": [-1, 0.75], "nice": false, "zero": false}, "axis": null}, "color": {"field": "c", "type": "nominal", "scale": {"domain": ["r", "c", "y", "m"], "range": ["#ff0000", "#00bfbf", "#bfbf00", "#bf00bf"]}, "legend": null}}},
  {"data": {"name": "clab"}, "transform": [{"filter": "datum.p == 7"}], "mark": {"type": "text", "color": "#008000", "fontSize": 7.5}, "encoding": {"x": {"field": "x", "type": "quantitative", "scale": {"domain": [-0.5, 0.5], "nice": false, "zero": false}, "axis": null}, "y": {"field": "y", "type": "quantitative", "scale": {"domain": [-1, 0.75], "nice": false, "zero": false}, "axis": null}, "text": {"field": "t"}}}
 ]
},
{
 "width": 386, "height": 294,
 "view": {"stroke": null},
 "resolve": {"axis": {"x": "independent", "y": "independent"}},
 "layer": [
  {"data": {"values": [{}]}, "mark": {"type": "rule", "color": "#0000ff", "strokeWidth": 1}, "encoding": {"x": {"datum": 0, "type": "quantitative", "scale": {"domain": [-0.5, 0.4923], "nice": false, "zero": false}, "axis": null}}},
  {"data": {"values": [{}]}, "mark": {"type": "rule", "color": "#0000ff", "strokeWidth": 1}, "encoding": {"y": {"datum": 0, "type": "quantitative", "scale": {"domain": [-1, 0.75], "nice": false, "zero": false}, "axis": null}}},
  {"data": {"name": "cont"}, "transform": [{"filter": "datum.q == 4"}], "mark": {"type": "line", "color": "black", "strokeWidth": 1.8, "clip": true}, "encoding": {"x": {"field": "x", "type": "quantitative", "scale": {"domain": [-0.5, 0.4923], "nice": false, "zero": false}, "axis": {"orient": "bottom", "values": [-0.4, -0.2, 0, 0.2, 0.4], "format": ".1f", "title": "[S/Si]", "labelPadding": 3, "titlePadding": 3}}, "y": {"field": "y", "type": "quantitative", "scale": {"domain": [-1, 0.75], "nice": false, "zero": false}, "axis": {"orient": "left", "values": [-1, -0.8, -0.6, -0.4, -0.2, 0, 0.2, 0.4, 0.6], "format": ".1f", "title": "[Mg/O]", "labelPadding": 4, "titlePadding": 5}}, "detail": {"field": "g"}, "order": {"field": "i"}}},
  {"data": {"name": "model"}, "transform": [{"filter": "datum.p == 8"}], "mark": {"type": "line", "color": "black", "clip": true, "strokeJoin": "round"}, "encoding": {"x": {"field": "x", "type": "quantitative", "scale": {"domain": [-0.5, 0.4923], "nice": false, "zero": false}, "axis": {"orient": "top", "values": [-0.4, -0.2, 0, 0.2, 0.4], "labels": false, "title": null}}, "y": {"field": "y", "type": "quantitative", "scale": {"domain": [-1, 0.75], "nice": false, "zero": false}, "axis": null}, "detail": {"field": "g"}, "order": {"field": "i"},
    "strokeDash": {"field": "s", "type": "nominal", "scale": {"domain": ["faint 0%", "faint 10%", "faint 25%", "faint 50%", "faint 75%", "faint 100%"], "range": [[1, 0], [3.7, 1.6], [1, 0], [1, 1.65], [6.4, 1.6, 1, 1.6], [5, 9]]}, "legend": null},
    "strokeWidth": {"field": "s", "type": "nominal", "scale": {"type": "ordinal", "domain": ["faint 0%", "faint 10%", "faint 25%", "faint 50%", "faint 75%", "faint 100%"], "range": [5.5, 1, 1, 1, 1, 5]}, "legend": null}}},
  {"data": {"name": "stars"}, "transform": [{"filter": "datum.p == 8"}], "mark": {"type": "point", "shape": "M0,-1L0.2245,-0.309L0.9511,-0.309L0.3633,0.118L0.5878,0.809L0,0.382L-0.5878,0.809L-0.3633,0.118L-0.9511,-0.309L-0.2245,-0.309Z", "size": 320, "filled": true, "opacity": 1}, "encoding": {"x": {"field": "x", "type": "quantitative", "scale": {"domain": [-0.5, 0.4923], "nice": false, "zero": false}, "axis": null}, "y": {"field": "y", "type": "quantitative", "scale": {"domain": [-1, 0.75], "nice": false, "zero": false}, "axis": null}, "color": {"field": "c", "type": "nominal", "scale": {"domain": ["r", "c", "y", "m"], "range": ["#ff0000", "#00bfbf", "#bfbf00", "#bf00bf"]}, "legend": null}}},
  {"data": {"name": "clab"}, "transform": [{"filter": "datum.p == 8"}], "mark": {"type": "text", "color": "#008000", "fontSize": 7.5}, "encoding": {"x": {"field": "x", "type": "quantitative", "scale": {"domain": [-0.5, 0.4923], "nice": false, "zero": false}, "axis": null}, "y": {"field": "y", "type": "quantitative", "scale": {"domain": [-1, 0.75], "nice": false, "zero": false}, "axis": null}, "text": {"field": "t"}}},
  {"data": {"values": [{}]}, "mark": {"type": "rule", "color": "black", "strokeWidth": 1}, "encoding": {"x": {"datum": -0.5, "type": "quantitative", "scale": {"domain": [-0.5, 0.4923], "nice": false, "zero": false}, "axis": null}}},
  {"data": {"values": [{"v": 0.75}, {"v": -1}]}, "mark": {"type": "rule", "color": "black", "strokeWidth": 1}, "encoding": {"y": {"field": "v", "type": "quantitative", "scale": {"domain": [-1, 0.75], "nice": false, "zero": false}, "axis": null}}}
 ]
}
]
}
